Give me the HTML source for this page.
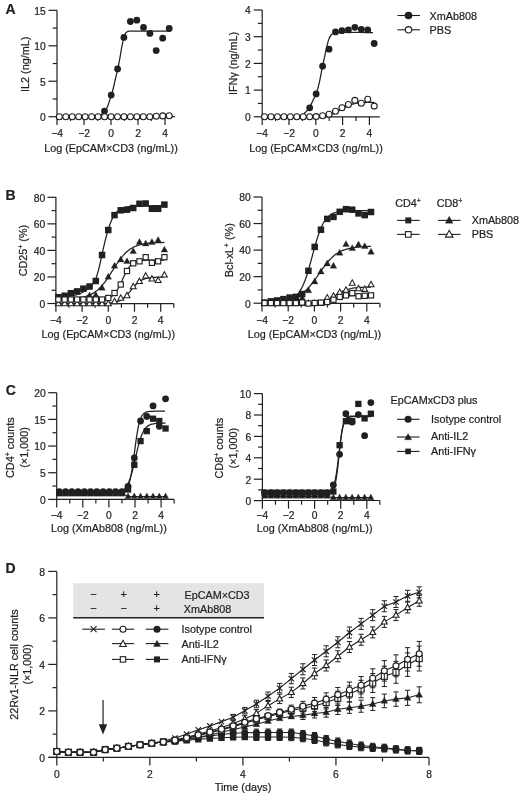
<!DOCTYPE html>
<html><head><meta charset="utf-8"><style>
html,body{margin:0;padding:0;background:#fff;}
svg{display:block;filter:grayscale(1);}
text{font-family:"Liberation Sans",sans-serif;fill:#231f20;stroke:#231f20;stroke-width:0.22px;}
</style></head><body>
<svg width="520" height="794" viewBox="0 0 520 794">
<rect width="520" height="794" fill="#fff"/>
<text x="5.5" y="13.8" text-anchor="start" font-size="14" font-weight="bold" >A</text>
<line x1="57" y1="10.3" x2="57" y2="116.7" stroke="#231f20" stroke-width="1.2"/>
<line x1="48.5" y1="116.7" x2="57" y2="116.7" stroke="#231f20" stroke-width="1.2"/>
<text x="45.8" y="121" text-anchor="end" font-size="10.3" font-weight="normal" >0</text>
<line x1="48.5" y1="81.25" x2="57" y2="81.25" stroke="#231f20" stroke-width="1.2"/>
<text x="45.8" y="85.55" text-anchor="end" font-size="10.3" font-weight="normal" >5</text>
<line x1="48.5" y1="45.8" x2="57" y2="45.8" stroke="#231f20" stroke-width="1.2"/>
<text x="45.8" y="50.1" text-anchor="end" font-size="10.3" font-weight="normal" >10</text>
<line x1="48.5" y1="10.35" x2="57" y2="10.35" stroke="#231f20" stroke-width="1.2"/>
<text x="45.8" y="14.65" text-anchor="end" font-size="10.3" font-weight="normal" >15</text>
<line x1="52.7" y1="98.97" x2="57" y2="98.97" stroke="#231f20" stroke-width="1.2"/>
<line x1="52.7" y1="63.53" x2="57" y2="63.53" stroke="#231f20" stroke-width="1.2"/>
<line x1="52.7" y1="28.08" x2="57" y2="28.08" stroke="#231f20" stroke-width="1.2"/>
<line x1="57" y1="116.7" x2="175" y2="116.7" stroke="#231f20" stroke-width="1.2"/>
<line x1="57" y1="116.7" x2="57" y2="124.9" stroke="#231f20" stroke-width="1.2"/>
<text x="57" y="136.6" text-anchor="middle" font-size="10.3" font-weight="normal" >−4</text>
<line x1="84" y1="116.7" x2="84" y2="124.9" stroke="#231f20" stroke-width="1.2"/>
<text x="84" y="136.6" text-anchor="middle" font-size="10.3" font-weight="normal" >−2</text>
<line x1="111" y1="116.7" x2="111" y2="124.9" stroke="#231f20" stroke-width="1.2"/>
<text x="111" y="136.6" text-anchor="middle" font-size="10.3" font-weight="normal" >0</text>
<line x1="138" y1="116.7" x2="138" y2="124.9" stroke="#231f20" stroke-width="1.2"/>
<text x="138" y="136.6" text-anchor="middle" font-size="10.3" font-weight="normal" >2</text>
<line x1="165" y1="116.7" x2="165" y2="124.9" stroke="#231f20" stroke-width="1.2"/>
<text x="165" y="136.6" text-anchor="middle" font-size="10.3" font-weight="normal" >4</text>
<line x1="70.5" y1="116.7" x2="70.5" y2="120.9" stroke="#231f20" stroke-width="1.2"/>
<line x1="97.5" y1="116.7" x2="97.5" y2="120.9" stroke="#231f20" stroke-width="1.2"/>
<line x1="124.5" y1="116.7" x2="124.5" y2="120.9" stroke="#231f20" stroke-width="1.2"/>
<line x1="151.5" y1="116.7" x2="151.5" y2="120.9" stroke="#231f20" stroke-width="1.2"/>
<text x="111" y="151.9" text-anchor="middle" font-size="10.8" font-weight="normal" >Log (EpCAM×CD3 (ng/mL))</text>
<text transform="translate(28.5,64.3) rotate(-90)" text-anchor="middle" font-size="10.8">IL2 (ng/mL)</text>
<path d="M59.5,116.7C64.92,116.7 85.75,116.75 92,116.7C98.25,116.65 95.67,116.62 97,116.4C98.33,116.18 99.03,115.92 100,115.4C100.97,114.88 102.03,114 102.8,113.3C103.57,112.6 103.8,112.35 104.6,111.2C105.4,110.05 106.5,109 107.6,106.4C108.7,103.8 110.3,98.42 111.2,95.6C112.1,92.78 112.3,92.27 113,89.5C113.7,86.73 114.6,82.45 115.4,79C116.2,75.55 117.1,72.02 117.8,68.8C118.5,65.58 119,62.97 119.6,59.7C120.2,56.43 120.82,52.38 121.4,49.2C121.98,46.02 122.62,42.73 123.1,40.6C123.58,38.47 123.88,37.63 124.3,36.4C124.72,35.17 125.12,33.98 125.6,33.2C126.08,32.42 126.63,32.03 127.2,31.7C127.77,31.37 127.87,31.3 129,31.2C130.13,31.1 127.1,31.12 134,31.1C140.9,31.08 164.33,31.1 170.4,31.1" fill="none" stroke="#231f20" stroke-width="1.25"/>
<circle cx="104.5" cy="111.1" r="3.4" fill="#231f20"/>
<circle cx="111.2" cy="95.1" r="3.4" fill="#231f20"/>
<circle cx="117.6" cy="68.9" r="3.4" fill="#231f20"/>
<circle cx="123.9" cy="37.4" r="3.4" fill="#231f20"/>
<circle cx="130.4" cy="21.5" r="3.4" fill="#231f20"/>
<circle cx="136.8" cy="20.2" r="3.4" fill="#231f20"/>
<circle cx="143.5" cy="27.4" r="3.4" fill="#231f20"/>
<circle cx="149.9" cy="33.4" r="3.4" fill="#231f20"/>
<circle cx="156.2" cy="50.6" r="3.4" fill="#231f20"/>
<circle cx="162.7" cy="38.2" r="3.4" fill="#231f20"/>
<circle cx="169.2" cy="28.5" r="3.4" fill="#231f20"/>
<circle cx="59.3" cy="116.8" r="3.0" fill="#fff" stroke="#231f20" stroke-width="1.1"/>
<circle cx="65.77" cy="116.8" r="3.0" fill="#fff" stroke="#231f20" stroke-width="1.1"/>
<circle cx="72.23" cy="116.8" r="3.0" fill="#fff" stroke="#231f20" stroke-width="1.1"/>
<circle cx="78.69" cy="116.8" r="3.0" fill="#fff" stroke="#231f20" stroke-width="1.1"/>
<circle cx="85.16" cy="116.8" r="3.0" fill="#fff" stroke="#231f20" stroke-width="1.1"/>
<circle cx="91.62" cy="116.8" r="3.0" fill="#fff" stroke="#231f20" stroke-width="1.1"/>
<circle cx="98.09" cy="116.8" r="3.0" fill="#fff" stroke="#231f20" stroke-width="1.1"/>
<circle cx="104.55" cy="116.8" r="3.0" fill="#fff" stroke="#231f20" stroke-width="1.1"/>
<circle cx="111.02" cy="116.8" r="3.0" fill="#fff" stroke="#231f20" stroke-width="1.1"/>
<circle cx="117.48" cy="116.8" r="3.0" fill="#fff" stroke="#231f20" stroke-width="1.1"/>
<circle cx="123.95" cy="116.8" r="3.0" fill="#fff" stroke="#231f20" stroke-width="1.1"/>
<circle cx="130.41" cy="116.8" r="3.0" fill="#fff" stroke="#231f20" stroke-width="1.1"/>
<circle cx="136.88" cy="116.8" r="3.0" fill="#fff" stroke="#231f20" stroke-width="1.1"/>
<circle cx="143.34" cy="116.8" r="3.0" fill="#fff" stroke="#231f20" stroke-width="1.1"/>
<circle cx="149.81" cy="116.8" r="3.0" fill="#fff" stroke="#231f20" stroke-width="1.1"/>
<circle cx="156.27" cy="116.3" r="3.0" fill="#fff" stroke="#231f20" stroke-width="1.1"/>
<circle cx="162.74" cy="115.9" r="3.0" fill="#fff" stroke="#231f20" stroke-width="1.1"/>
<circle cx="169.2" cy="115.7" r="3.0" fill="#fff" stroke="#231f20" stroke-width="1.1"/>
<line x1="262.2" y1="10" x2="262.2" y2="116.8" stroke="#231f20" stroke-width="1.2"/>
<line x1="253.7" y1="116.8" x2="262.2" y2="116.8" stroke="#231f20" stroke-width="1.2"/>
<text x="250.7" y="121.1" text-anchor="end" font-size="10.3" font-weight="normal" >0</text>
<line x1="253.7" y1="90.1" x2="262.2" y2="90.1" stroke="#231f20" stroke-width="1.2"/>
<text x="250.7" y="94.4" text-anchor="end" font-size="10.3" font-weight="normal" >1</text>
<line x1="253.7" y1="63.4" x2="262.2" y2="63.4" stroke="#231f20" stroke-width="1.2"/>
<text x="250.7" y="67.7" text-anchor="end" font-size="10.3" font-weight="normal" >2</text>
<line x1="253.7" y1="36.7" x2="262.2" y2="36.7" stroke="#231f20" stroke-width="1.2"/>
<text x="250.7" y="41" text-anchor="end" font-size="10.3" font-weight="normal" >3</text>
<line x1="253.7" y1="10" x2="262.2" y2="10" stroke="#231f20" stroke-width="1.2"/>
<text x="250.7" y="14.3" text-anchor="end" font-size="10.3" font-weight="normal" >4</text>
<line x1="257.9" y1="103.45" x2="262.2" y2="103.45" stroke="#231f20" stroke-width="1.2"/>
<line x1="257.9" y1="76.75" x2="262.2" y2="76.75" stroke="#231f20" stroke-width="1.2"/>
<line x1="257.9" y1="50.05" x2="262.2" y2="50.05" stroke="#231f20" stroke-width="1.2"/>
<line x1="257.9" y1="23.35" x2="262.2" y2="23.35" stroke="#231f20" stroke-width="1.2"/>
<line x1="262.2" y1="116.8" x2="379.8" y2="116.8" stroke="#231f20" stroke-width="1.2"/>
<line x1="262.2" y1="116.8" x2="262.2" y2="125" stroke="#231f20" stroke-width="1.2"/>
<text x="262.2" y="136.6" text-anchor="middle" font-size="10.3" font-weight="normal" >−4</text>
<line x1="289" y1="116.8" x2="289" y2="125" stroke="#231f20" stroke-width="1.2"/>
<text x="289" y="136.6" text-anchor="middle" font-size="10.3" font-weight="normal" >−2</text>
<line x1="315.8" y1="116.8" x2="315.8" y2="125" stroke="#231f20" stroke-width="1.2"/>
<text x="315.8" y="136.6" text-anchor="middle" font-size="10.3" font-weight="normal" >0</text>
<line x1="342.6" y1="116.8" x2="342.6" y2="125" stroke="#231f20" stroke-width="1.2"/>
<text x="342.6" y="136.6" text-anchor="middle" font-size="10.3" font-weight="normal" >2</text>
<line x1="369.4" y1="116.8" x2="369.4" y2="125" stroke="#231f20" stroke-width="1.2"/>
<text x="369.4" y="136.6" text-anchor="middle" font-size="10.3" font-weight="normal" >4</text>
<line x1="275.6" y1="116.8" x2="275.6" y2="121" stroke="#231f20" stroke-width="1.2"/>
<line x1="302.4" y1="116.8" x2="302.4" y2="121" stroke="#231f20" stroke-width="1.2"/>
<line x1="329.2" y1="116.8" x2="329.2" y2="121" stroke="#231f20" stroke-width="1.2"/>
<line x1="356" y1="116.8" x2="356" y2="121" stroke="#231f20" stroke-width="1.2"/>
<text x="316" y="151.9" text-anchor="middle" font-size="10.8" font-weight="normal" >Log (EpCAM×CD3 (ng/mL))</text>
<text transform="translate(237.2,63.5) rotate(-90)" text-anchor="middle" font-size="10.8">IFNγ (ng/mL)</text>
<path d="M264.8,116.8C269.33,116.8 286.63,116.87 292,116.8C297.37,116.73 295.58,116.62 297,116.4C298.42,116.18 299.4,115.9 300.5,115.5C301.6,115.1 302.58,114.72 303.6,114C304.62,113.28 305.6,112.3 306.6,111.2C307.6,110.1 308.6,109.07 309.6,107.4C310.6,105.73 311.5,103.5 312.6,101.2C313.7,98.9 315.12,96.53 316.2,93.6C317.28,90.67 318.05,88.15 319.1,83.6C320.15,79.05 321.58,70.77 322.5,66.3C323.42,61.83 323.87,60.15 324.6,56.8C325.33,53.45 326.2,49.1 326.9,46.2C327.6,43.3 328.1,41.27 328.8,39.4C329.5,37.53 330.32,36.03 331.1,35C331.88,33.97 332.6,33.6 333.5,33.2C334.4,32.8 335.08,32.72 336.5,32.6C337.92,32.48 335.92,32.52 342,32.5C348.08,32.48 367.83,32.5 373,32.5" fill="none" stroke="#231f20" stroke-width="1.25"/>
<path d="M264.55,116.8C264.81,116.8 265.59,116.8 266.12,116.8C266.64,116.8 267.16,116.8 267.68,116.8C268.2,116.8 268.73,116.8 269.25,116.8C269.77,116.8 270.29,116.8 270.82,116.8C271.34,116.8 271.86,116.8 272.38,116.8C272.9,116.8 273.43,116.8 273.95,116.8C274.47,116.8 274.99,116.8 275.51,116.8C276.04,116.8 276.56,116.8 277.08,116.8C277.6,116.8 278.13,116.8 278.65,116.8C279.17,116.8 279.69,116.8 280.21,116.8C280.74,116.8 281.26,116.8 281.78,116.8C282.3,116.8 282.82,116.8 283.35,116.8C283.87,116.8 284.39,116.8 284.91,116.8C285.44,116.8 285.96,116.8 286.48,116.8C287,116.8 287.52,116.8 288.05,116.8C288.57,116.8 289.09,116.8 289.61,116.8C290.13,116.8 290.66,116.8 291.18,116.8C291.7,116.8 292.22,116.8 292.75,116.8C293.27,116.8 293.79,116.8 294.31,116.79C294.83,116.79 295.36,116.79 295.88,116.79C296.4,116.79 296.92,116.79 297.44,116.79C297.97,116.79 298.49,116.79 299.01,116.79C299.53,116.79 300.06,116.79 300.58,116.78C301.1,116.78 301.62,116.78 302.14,116.78C302.67,116.78 303.19,116.78 303.71,116.77C304.23,116.77 304.75,116.77 305.28,116.77C305.8,116.76 306.32,116.76 306.84,116.76C307.37,116.75 307.89,116.75 308.41,116.74C308.93,116.74 309.45,116.73 309.98,116.73C310.5,116.72 311.02,116.71 311.54,116.7C312.06,116.7 312.59,116.69 313.11,116.67C313.63,116.66 314.15,116.65 314.68,116.64C315.2,116.62 315.72,116.61 316.24,116.59C316.76,116.57 317.29,116.55 317.81,116.52C318.33,116.5 318.85,116.47 319.38,116.44C319.9,116.41 320.42,116.38 320.94,116.34C321.46,116.3 321.99,116.25 322.51,116.2C323.03,116.15 323.55,116.09 324.07,116.03C324.6,115.96 325.12,115.89 325.64,115.81C326.16,115.73 326.69,115.63 327.21,115.53C327.73,115.43 328.25,115.32 328.77,115.19C329.3,115.06 329.82,114.92 330.34,114.76C330.86,114.61 331.38,114.44 331.91,114.25C332.43,114.07 332.95,113.86 333.47,113.64C333.99,113.43 334.52,113.19 335.04,112.94C335.56,112.69 336.08,112.42 336.61,112.14C337.13,111.86 337.65,111.56 338.17,111.26C338.69,110.96 339.22,110.64 339.74,110.32C340.26,110.01 340.78,109.68 341.3,109.36C341.83,109.04 342.35,108.72 342.87,108.41C343.39,108.09 343.92,107.78 344.44,107.49C344.96,107.2 345.48,106.91 346,106.64C346.53,106.37 347.05,106.11 347.57,105.88C348.09,105.64 348.62,105.41 349.14,105.21C349.66,105 350.18,104.81 350.7,104.64C351.23,104.46 351.75,104.31 352.27,104.16C352.79,104.02 353.31,103.89 353.84,103.77C354.36,103.65 354.88,103.55 355.4,103.45C355.92,103.36 356.45,103.28 356.97,103.2C357.49,103.13 358.01,103.06 358.54,103C359.06,102.94 359.58,102.89 360.1,102.84C360.62,102.8 361.15,102.76 361.67,102.72C362.19,102.68 362.71,102.65 363.24,102.62C363.76,102.6 364.28,102.57 364.8,102.55C365.32,102.53 365.85,102.51 366.37,102.49C366.89,102.47 367.41,102.46 367.93,102.45C368.46,102.43 368.98,102.42 369.5,102.41C370.02,102.4 370.55,102.39 371.07,102.39C371.59,102.38 372.11,102.37 372.63,102.37C373.16,102.36 373.94,102.35 374.2,102.35" fill="none" stroke="#231f20" stroke-width="1.25"/>
<circle cx="264.55" cy="116.8" r="3.0" fill="#fff" stroke="#231f20" stroke-width="1.1"/>
<circle cx="271" cy="116.8" r="3.0" fill="#fff" stroke="#231f20" stroke-width="1.1"/>
<circle cx="277.45" cy="116.8" r="3.0" fill="#fff" stroke="#231f20" stroke-width="1.1"/>
<circle cx="283.9" cy="116.8" r="3.0" fill="#fff" stroke="#231f20" stroke-width="1.1"/>
<circle cx="290.35" cy="116.8" r="3.0" fill="#fff" stroke="#231f20" stroke-width="1.1"/>
<circle cx="296.8" cy="116.8" r="3.0" fill="#fff" stroke="#231f20" stroke-width="1.1"/>
<circle cx="303.25" cy="116.8" r="3.0" fill="#fff" stroke="#231f20" stroke-width="1.1"/>
<circle cx="309.7" cy="116.7" r="3.0" fill="#fff" stroke="#231f20" stroke-width="1.1"/>
<circle cx="316.15" cy="116.6" r="3.0" fill="#fff" stroke="#231f20" stroke-width="1.1"/>
<circle cx="322.6" cy="115.8" r="3.0" fill="#fff" stroke="#231f20" stroke-width="1.1"/>
<circle cx="329.05" cy="114.2" r="3.0" fill="#fff" stroke="#231f20" stroke-width="1.1"/>
<circle cx="335.5" cy="111.2" r="3.0" fill="#fff" stroke="#231f20" stroke-width="1.1"/>
<circle cx="341.95" cy="107.8" r="3.0" fill="#fff" stroke="#231f20" stroke-width="1.1"/>
<circle cx="348.4" cy="104.5" r="3.0" fill="#fff" stroke="#231f20" stroke-width="1.1"/>
<circle cx="354.85" cy="100.4" r="3.0" fill="#fff" stroke="#231f20" stroke-width="1.1"/>
<circle cx="361.3" cy="103.2" r="3.0" fill="#fff" stroke="#231f20" stroke-width="1.1"/>
<circle cx="367.75" cy="99.3" r="3.0" fill="#fff" stroke="#231f20" stroke-width="1.1"/>
<circle cx="374.2" cy="106.1" r="3.0" fill="#fff" stroke="#231f20" stroke-width="1.1"/>
<circle cx="309.7" cy="107.8" r="3.4" fill="#231f20"/>
<circle cx="316.15" cy="93.9" r="3.4" fill="#231f20"/>
<circle cx="322.6" cy="66.2" r="3.4" fill="#231f20"/>
<circle cx="329.05" cy="49.2" r="3.4" fill="#231f20"/>
<circle cx="335.5" cy="31.9" r="3.4" fill="#231f20"/>
<circle cx="341.95" cy="30.7" r="3.4" fill="#231f20"/>
<circle cx="348.4" cy="29.9" r="3.4" fill="#231f20"/>
<circle cx="354.85" cy="27.3" r="3.4" fill="#231f20"/>
<circle cx="361.3" cy="29.3" r="3.4" fill="#231f20"/>
<circle cx="367.75" cy="29.9" r="3.4" fill="#231f20"/>
<circle cx="374.2" cy="43.5" r="3.4" fill="#231f20"/>
<line x1="397.5" y1="15.5" x2="420" y2="15.5" stroke="#231f20" stroke-width="1.1"/>
<circle cx="408.5" cy="15.5" r="3.75" fill="#231f20"/>
<line x1="397.5" y1="29.8" x2="420" y2="29.8" stroke="#231f20" stroke-width="1.1"/>
<circle cx="408.5" cy="29.8" r="3.2" fill="#fff" stroke="#231f20" stroke-width="1.1"/>
<text x="429.5" y="19.6" text-anchor="start" font-size="10.8" font-weight="normal" >XmAb808</text>
<text x="429.5" y="34.1" text-anchor="start" font-size="10.8" font-weight="normal" >PBS</text>
<text x="5.5" y="199.7" text-anchor="start" font-size="14" font-weight="bold" >B</text>
<line x1="55.9" y1="196.9" x2="55.9" y2="303.5" stroke="#231f20" stroke-width="1.2"/>
<line x1="47.4" y1="303.5" x2="55.9" y2="303.5" stroke="#231f20" stroke-width="1.2"/>
<text x="45.2" y="307.8" text-anchor="end" font-size="10.3" font-weight="normal" >0</text>
<line x1="47.4" y1="276.95" x2="55.9" y2="276.95" stroke="#231f20" stroke-width="1.2"/>
<text x="45.2" y="281.25" text-anchor="end" font-size="10.3" font-weight="normal" >20</text>
<line x1="47.4" y1="250.4" x2="55.9" y2="250.4" stroke="#231f20" stroke-width="1.2"/>
<text x="45.2" y="254.7" text-anchor="end" font-size="10.3" font-weight="normal" >40</text>
<line x1="47.4" y1="223.85" x2="55.9" y2="223.85" stroke="#231f20" stroke-width="1.2"/>
<text x="45.2" y="228.15" text-anchor="end" font-size="10.3" font-weight="normal" >60</text>
<line x1="47.4" y1="197.3" x2="55.9" y2="197.3" stroke="#231f20" stroke-width="1.2"/>
<text x="45.2" y="201.6" text-anchor="end" font-size="10.3" font-weight="normal" >80</text>
<line x1="51.6" y1="290.23" x2="55.9" y2="290.23" stroke="#231f20" stroke-width="1.2"/>
<line x1="51.6" y1="263.68" x2="55.9" y2="263.68" stroke="#231f20" stroke-width="1.2"/>
<line x1="51.6" y1="237.12" x2="55.9" y2="237.12" stroke="#231f20" stroke-width="1.2"/>
<line x1="51.6" y1="210.57" x2="55.9" y2="210.57" stroke="#231f20" stroke-width="1.2"/>
<line x1="55.9" y1="303.6" x2="173.8" y2="303.6" stroke="#231f20" stroke-width="1.2"/>
<line x1="55.9" y1="303.6" x2="55.9" y2="311.8" stroke="#231f20" stroke-width="1.2"/>
<text x="55.9" y="323.6" text-anchor="middle" font-size="10.3" font-weight="normal" >−4</text>
<line x1="82.1" y1="303.6" x2="82.1" y2="311.8" stroke="#231f20" stroke-width="1.2"/>
<text x="82.1" y="323.6" text-anchor="middle" font-size="10.3" font-weight="normal" >−2</text>
<line x1="108.3" y1="303.6" x2="108.3" y2="311.8" stroke="#231f20" stroke-width="1.2"/>
<text x="108.3" y="323.6" text-anchor="middle" font-size="10.3" font-weight="normal" >0</text>
<line x1="134.5" y1="303.6" x2="134.5" y2="311.8" stroke="#231f20" stroke-width="1.2"/>
<text x="134.5" y="323.6" text-anchor="middle" font-size="10.3" font-weight="normal" >2</text>
<line x1="160.7" y1="303.6" x2="160.7" y2="311.8" stroke="#231f20" stroke-width="1.2"/>
<text x="160.7" y="323.6" text-anchor="middle" font-size="10.3" font-weight="normal" >4</text>
<line x1="69" y1="303.6" x2="69" y2="307.8" stroke="#231f20" stroke-width="1.2"/>
<line x1="95.2" y1="303.6" x2="95.2" y2="307.8" stroke="#231f20" stroke-width="1.2"/>
<line x1="121.4" y1="303.6" x2="121.4" y2="307.8" stroke="#231f20" stroke-width="1.2"/>
<line x1="147.6" y1="303.6" x2="147.6" y2="307.8" stroke="#231f20" stroke-width="1.2"/>
<line x1="173.8" y1="303.6" x2="173.8" y2="307.8" stroke="#231f20" stroke-width="1.2"/>
<text x="108.3" y="338.3" text-anchor="middle" font-size="10.8" font-weight="normal" >Log (EpCAM×CD3 (ng/mL))</text>
<text transform="translate(26.8,250.6) rotate(-90)" text-anchor="middle" font-size="10.8">CD25<tspan dy='-4' font-size='7'>+</tspan><tspan dy='4'> (%)</tspan></text>
<path d="M58.4,296.9C60.33,296.78 67.07,296.52 70,296.2C72.93,295.88 74.33,295.4 76,295C77.67,294.6 78.67,294.37 80,293.8C81.33,293.23 82.57,292.57 84,291.6C85.43,290.63 87.27,289.17 88.6,288C89.93,286.83 90.85,286 92,284.6C93.15,283.2 94.33,282.33 95.5,279.6C96.67,276.87 97.93,272.3 99,268.2C100.07,264.1 100.85,259.67 101.9,255C102.95,250.33 104.28,244.33 105.3,240.2C106.32,236.07 107.05,233.32 108,230.2C108.95,227.08 109.95,224.03 111,221.5C112.05,218.97 113.22,216.7 114.3,215C115.38,213.3 116.42,212.25 117.5,211.3C118.58,210.35 119.38,209.97 120.8,209.3C122.22,208.63 123.63,207.85 126,207.3C128.37,206.75 128.6,206.3 135,206C141.4,205.7 159.5,205.58 164.4,205.5" fill="none" stroke="#231f20" stroke-width="1.25"/>
<path d="M58.4,298.87C58.65,298.86 59.41,298.85 59.91,298.84C60.42,298.83 60.92,298.83 61.43,298.81C61.93,298.8 62.44,298.79 62.94,298.78C63.45,298.77 63.95,298.75 64.46,298.74C64.96,298.73 65.47,298.71 65.97,298.69C66.48,298.68 66.98,298.66 67.49,298.64C67.99,298.62 68.49,298.59 69,298.57C69.5,298.54 70.01,298.52 70.51,298.49C71.02,298.46 71.52,298.43 72.03,298.4C72.53,298.36 73.04,298.33 73.54,298.29C74.05,298.25 74.55,298.2 75.06,298.16C75.56,298.11 76.07,298.06 76.57,298C77.08,297.95 77.58,297.89 78.08,297.82C78.59,297.76 79.09,297.69 79.6,297.61C80.1,297.53 80.61,297.45 81.11,297.36C81.62,297.27 82.12,297.18 82.63,297.07C83.13,296.96 83.64,296.85 84.14,296.73C84.65,296.6 85.15,296.47 85.66,296.33C86.16,296.18 86.67,296.03 87.17,295.86C87.67,295.69 88.18,295.51 88.68,295.32C89.19,295.12 89.69,294.92 90.2,294.69C90.7,294.46 91.21,294.22 91.71,293.96C92.22,293.7 92.72,293.43 93.23,293.13C93.73,292.83 94.24,292.52 94.74,292.18C95.25,291.84 95.75,291.48 96.26,291.09C96.76,290.7 97.26,290.3 97.77,289.86C98.27,289.43 98.78,288.97 99.28,288.49C99.79,288 100.29,287.49 100.8,286.96C101.3,286.42 101.81,285.86 102.31,285.27C102.82,284.68 103.32,284.07 103.83,283.43C104.33,282.79 104.84,282.13 105.34,281.44C105.85,280.76 106.35,280.05 106.85,279.33C107.36,278.6 107.86,277.85 108.37,277.09C108.87,276.34 109.38,275.56 109.88,274.77C110.39,273.99 110.89,273.19 111.4,272.4C111.9,271.6 112.41,270.8 112.91,270C113.42,269.2 113.92,268.39 114.43,267.6C114.93,266.81 115.44,266.03 115.94,265.26C116.44,264.48 116.95,263.72 117.45,262.98C117.96,262.24 118.46,261.51 118.97,260.81C119.47,260.1 119.98,259.42 120.48,258.76C120.99,258.1 121.49,257.46 122,256.85C122.5,256.24 123.01,255.65 123.51,255.09C124.02,254.53 124.52,254 125.03,253.49C125.53,252.98 126.03,252.5 126.54,252.04C127.04,251.59 127.55,251.16 128.05,250.75C128.56,250.34 129.06,249.96 129.57,249.6C130.07,249.24 130.58,248.91 131.08,248.59C131.59,248.27 132.09,247.98 132.6,247.7C133.1,247.43 133.61,247.17 134.11,246.93C134.62,246.69 135.12,246.47 135.62,246.26C136.13,246.05 136.63,245.86 137.14,245.68C137.64,245.5 138.15,245.33 138.65,245.18C139.16,245.02 139.66,244.88 140.17,244.75C140.67,244.61 141.18,244.49 141.68,244.38C142.19,244.27 142.69,244.16 143.2,244.07C143.7,243.97 144.21,243.88 144.71,243.8C145.21,243.71 145.72,243.64 146.22,243.57C146.73,243.5 147.23,243.43 147.74,243.37C148.24,243.31 148.75,243.26 149.25,243.21C149.76,243.16 150.26,243.11 150.77,243.07C151.27,243.03 151.78,242.99 152.28,242.95C152.79,242.91 153.29,242.88 153.8,242.85C154.3,242.82 154.8,242.79 155.31,242.77C155.81,242.74 156.32,242.72 156.82,242.69C157.33,242.67 157.83,242.65 158.34,242.63C158.84,242.61 159.35,242.6 159.85,242.58C160.36,242.56 160.86,242.55 161.37,242.54C161.87,242.52 162.38,242.51 162.88,242.5C163.39,242.49 164.14,242.47 164.4,242.47" fill="none" stroke="#231f20" stroke-width="1.25"/>
<path d="M58.4,300C58.65,300 59.41,300 59.91,300C60.42,300 60.92,300 61.43,300C61.93,300 62.44,300 62.94,300C63.45,300 63.95,300 64.46,300C64.96,300 65.47,300 65.97,300C66.48,300 66.98,300 67.49,300C67.99,300 68.49,300 69,300C69.5,300 70.01,300 70.51,300C71.02,300 71.52,300 72.03,300C72.53,300 73.04,300 73.54,300C74.05,300 74.55,300 75.06,300C75.56,300 76.07,300 76.57,300C77.08,300 77.58,300 78.08,300C78.59,300 79.09,300 79.6,300C80.1,300 80.61,300 81.11,300C81.62,299.99 82.12,299.99 82.63,299.99C83.13,299.99 83.64,299.99 84.14,299.99C84.65,299.99 85.15,299.99 85.66,299.99C86.16,299.99 86.67,299.98 87.17,299.98C87.67,299.98 88.18,299.98 88.68,299.98C89.19,299.97 89.69,299.97 90.2,299.97C90.7,299.96 91.21,299.96 91.71,299.95C92.22,299.95 92.72,299.94 93.23,299.93C93.73,299.93 94.24,299.92 94.74,299.91C95.25,299.9 95.75,299.89 96.26,299.87C96.76,299.86 97.26,299.84 97.77,299.82C98.27,299.8 98.78,299.78 99.28,299.75C99.79,299.72 100.29,299.69 100.8,299.65C101.3,299.61 101.81,299.57 102.31,299.51C102.82,299.46 103.32,299.4 103.83,299.32C104.33,299.25 104.84,299.17 105.34,299.06C105.85,298.96 106.35,298.85 106.85,298.71C107.36,298.56 107.86,298.41 108.37,298.22C108.87,298.02 109.38,297.81 109.88,297.55C110.39,297.3 110.89,297.01 111.4,296.67C111.9,296.33 112.41,295.95 112.91,295.5C113.42,295.05 113.92,294.56 114.43,293.99C114.93,293.42 115.44,292.79 115.94,292.08C116.44,291.38 116.95,290.6 117.45,289.75C117.96,288.91 118.46,287.99 118.97,287.02C119.47,286.05 119.98,285 120.48,283.95C120.99,282.89 121.49,281.77 122,280.67C122.5,279.57 123.01,278.43 123.51,277.35C124.02,276.27 124.52,275.19 125.03,274.18C125.53,273.17 126.03,272.19 126.54,271.29C127.04,270.4 127.55,269.56 128.05,268.8C128.56,268.04 129.06,267.35 129.57,266.72C130.07,266.1 130.58,265.55 131.08,265.06C131.59,264.57 132.09,264.14 132.6,263.76C133.1,263.38 133.61,263.06 134.11,262.77C134.62,262.48 135.12,262.24 135.62,262.02C136.13,261.81 136.63,261.63 137.14,261.47C137.64,261.31 138.15,261.18 138.65,261.07C139.16,260.95 139.66,260.86 140.17,260.77C140.67,260.68 141.18,260.62 141.68,260.55C142.19,260.49 142.69,260.44 143.2,260.4C143.7,260.35 144.21,260.32 144.71,260.29C145.21,260.25 145.72,260.23 146.22,260.21C146.73,260.18 147.23,260.16 147.74,260.15C148.24,260.13 148.75,260.12 149.25,260.11C149.76,260.09 150.26,260.08 150.77,260.08C151.27,260.07 151.78,260.06 152.28,260.05C152.79,260.05 153.29,260.04 153.8,260.04C154.3,260.03 154.8,260.03 155.31,260.03C155.81,260.02 156.32,260.02 156.82,260.02C157.33,260.02 157.83,260.02 158.34,260.01C158.84,260.01 159.35,260.01 159.85,260.01C160.36,260.01 160.86,260.01 161.37,260.01C161.87,260.01 162.38,260.01 162.88,260.01C163.39,260 164.14,260 164.4,260" fill="none" stroke="#231f20" stroke-width="1.25"/>
<path d="M58.4,303.5C58.65,303.5 59.41,303.5 59.91,303.5C60.42,303.5 60.92,303.5 61.43,303.5C61.93,303.5 62.44,303.5 62.94,303.5C63.45,303.5 63.95,303.5 64.46,303.5C64.96,303.5 65.47,303.5 65.97,303.5C66.48,303.5 66.98,303.5 67.49,303.5C67.99,303.5 68.49,303.5 69,303.5C69.5,303.5 70.01,303.5 70.51,303.5C71.02,303.5 71.52,303.5 72.03,303.5C72.53,303.5 73.04,303.5 73.54,303.5C74.05,303.5 74.55,303.5 75.06,303.5C75.56,303.5 76.07,303.5 76.57,303.5C77.08,303.5 77.58,303.5 78.08,303.5C78.59,303.5 79.09,303.5 79.6,303.5C80.1,303.5 80.61,303.5 81.11,303.5C81.62,303.5 82.12,303.5 82.63,303.5C83.13,303.5 83.64,303.5 84.14,303.5C84.65,303.5 85.15,303.5 85.66,303.5C86.16,303.49 86.67,303.49 87.17,303.49C87.67,303.49 88.18,303.49 88.68,303.49C89.19,303.49 89.69,303.49 90.2,303.49C90.7,303.49 91.21,303.49 91.71,303.48C92.22,303.48 92.72,303.48 93.23,303.48C93.73,303.48 94.24,303.48 94.74,303.47C95.25,303.47 95.75,303.47 96.26,303.46C96.76,303.46 97.26,303.46 97.77,303.45C98.27,303.45 98.78,303.44 99.28,303.44C99.79,303.43 100.29,303.42 100.8,303.41C101.3,303.41 101.81,303.4 102.31,303.39C102.82,303.38 103.32,303.36 103.83,303.35C104.33,303.33 104.84,303.32 105.34,303.3C105.85,303.28 106.35,303.26 106.85,303.23C107.36,303.21 107.86,303.18 108.37,303.15C108.87,303.11 109.38,303.07 109.88,303.03C110.39,302.98 110.89,302.93 111.4,302.88C111.9,302.82 112.41,302.75 112.91,302.67C113.42,302.6 113.92,302.51 114.43,302.41C114.93,302.31 115.44,302.2 115.94,302.07C116.44,301.94 116.95,301.79 117.45,301.62C117.96,301.45 118.46,301.27 118.97,301.05C119.47,300.84 119.98,300.6 120.48,300.34C120.99,300.07 121.49,299.77 122,299.44C122.5,299.11 123.01,298.75 123.51,298.35C124.02,297.96 124.52,297.52 125.03,297.05C125.53,296.59 126.03,296.08 126.54,295.55C127.04,295.02 127.55,294.45 128.05,293.86C128.56,293.28 129.06,292.66 129.57,292.04C130.07,291.42 130.58,290.78 131.08,290.15C131.59,289.52 132.09,288.87 132.6,288.26C133.1,287.64 133.61,287.02 134.11,286.44C134.62,285.86 135.12,285.3 135.62,284.78C136.13,284.25 136.63,283.75 137.14,283.29C137.64,282.83 138.15,282.41 138.65,282.02C139.16,281.63 139.66,281.27 140.17,280.95C140.67,280.63 141.18,280.34 141.68,280.08C142.19,279.82 142.69,279.59 143.2,279.38C143.7,279.17 144.21,278.99 144.71,278.82C145.21,278.66 145.72,278.52 146.22,278.39C146.73,278.26 147.23,278.16 147.74,278.06C148.24,277.96 148.75,277.88 149.25,277.8C149.76,277.73 150.26,277.66 150.77,277.61C151.27,277.55 151.78,277.5 152.28,277.46C152.79,277.41 153.29,277.38 153.8,277.34C154.3,277.31 154.8,277.28 155.31,277.26C155.81,277.23 156.32,277.21 156.82,277.19C157.33,277.18 157.83,277.16 158.34,277.15C158.84,277.13 159.35,277.12 159.85,277.11C160.36,277.1 160.86,277.09 161.37,277.08C161.87,277.07 162.38,277.07 162.88,277.06C163.39,277.06 164.14,277.05 164.4,277.05" fill="none" stroke="#231f20" stroke-width="1.25"/>
<rect x="55.15" y="293.95" width="6.5" height="6.5" fill="#231f20"/>
<rect x="61.39" y="292.55" width="6.5" height="6.5" fill="#231f20"/>
<rect x="67.62" y="289.95" width="6.5" height="6.5" fill="#231f20"/>
<rect x="73.86" y="288.15" width="6.5" height="6.5" fill="#231f20"/>
<rect x="80.09" y="285.45" width="6.5" height="6.5" fill="#231f20"/>
<rect x="86.33" y="283.25" width="6.5" height="6.5" fill="#231f20"/>
<rect x="92.56" y="277.75" width="6.5" height="6.5" fill="#231f20"/>
<rect x="98.8" y="251.75" width="6.5" height="6.5" fill="#231f20"/>
<rect x="105.03" y="226.75" width="6.5" height="6.5" fill="#231f20"/>
<rect x="111.27" y="211.85" width="6.5" height="6.5" fill="#231f20"/>
<rect x="117.5" y="207.05" width="6.5" height="6.5" fill="#231f20"/>
<rect x="123.74" y="206.45" width="6.5" height="6.5" fill="#231f20"/>
<rect x="129.97" y="204.75" width="6.5" height="6.5" fill="#231f20"/>
<rect x="136.21" y="200.55" width="6.5" height="6.5" fill="#231f20"/>
<rect x="142.44" y="200.25" width="6.5" height="6.5" fill="#231f20"/>
<rect x="148.68" y="205.55" width="6.5" height="6.5" fill="#231f20"/>
<rect x="154.91" y="205.55" width="6.5" height="6.5" fill="#231f20"/>
<rect x="161.15" y="201.35" width="6.5" height="6.5" fill="#231f20"/>
<polygon points="89.58,291.94 92.88,297.88 86.28,297.88" fill="#231f20" stroke="#231f20" stroke-width="0.3" stroke-linejoin="round"/>
<polygon points="95.81,291.44 99.11,297.38 92.51,297.38" fill="#231f20" stroke="#231f20" stroke-width="0.3" stroke-linejoin="round"/>
<polygon points="102.05,284.24 105.34,290.18 98.75,290.18" fill="#231f20" stroke="#231f20" stroke-width="0.3" stroke-linejoin="round"/>
<polygon points="108.28,273.24 111.58,279.18 104.98,279.18" fill="#231f20" stroke="#231f20" stroke-width="0.3" stroke-linejoin="round"/>
<polygon points="114.52,262.24 117.81,268.18 111.22,268.18" fill="#231f20" stroke="#231f20" stroke-width="0.3" stroke-linejoin="round"/>
<polygon points="120.75,255.94 124.05,261.88 117.45,261.88" fill="#231f20" stroke="#231f20" stroke-width="0.3" stroke-linejoin="round"/>
<polygon points="126.99,257.64 130.29,263.58 123.69,263.58" fill="#231f20" stroke="#231f20" stroke-width="0.3" stroke-linejoin="round"/>
<polygon points="133.22,247.64 136.52,253.58 129.92,253.58" fill="#231f20" stroke="#231f20" stroke-width="0.3" stroke-linejoin="round"/>
<polygon points="139.46,238.54 142.76,244.48 136.16,244.48" fill="#231f20" stroke="#231f20" stroke-width="0.3" stroke-linejoin="round"/>
<polygon points="145.69,240.04 148.99,245.98 142.39,245.98" fill="#231f20" stroke="#231f20" stroke-width="0.3" stroke-linejoin="round"/>
<polygon points="151.93,238.54 155.23,244.48 148.62,244.48" fill="#231f20" stroke="#231f20" stroke-width="0.3" stroke-linejoin="round"/>
<polygon points="158.16,236.54 161.46,242.48 154.86,242.48" fill="#231f20" stroke="#231f20" stroke-width="0.3" stroke-linejoin="round"/>
<polygon points="164.4,246.14 167.7,252.08 161.09,252.08" fill="#231f20" stroke="#231f20" stroke-width="0.3" stroke-linejoin="round"/>
<polygon points="58.4,300.36 61.4,305.76 55.4,305.76" fill="#fff" stroke="#231f20" stroke-width="1.05" stroke-linejoin="miter"/>
<polygon points="64.64,300.36 67.64,305.76 61.64,305.76" fill="#fff" stroke="#231f20" stroke-width="1.05" stroke-linejoin="miter"/>
<polygon points="70.87,300.36 73.87,305.76 67.87,305.76" fill="#fff" stroke="#231f20" stroke-width="1.05" stroke-linejoin="miter"/>
<polygon points="77.11,300.36 80.11,305.76 74.11,305.76" fill="#fff" stroke="#231f20" stroke-width="1.05" stroke-linejoin="miter"/>
<polygon points="83.34,300.36 86.34,305.76 80.34,305.76" fill="#fff" stroke="#231f20" stroke-width="1.05" stroke-linejoin="miter"/>
<polygon points="89.58,300.36 92.58,305.76 86.58,305.76" fill="#fff" stroke="#231f20" stroke-width="1.05" stroke-linejoin="miter"/>
<polygon points="95.81,300.36 98.81,305.76 92.81,305.76" fill="#fff" stroke="#231f20" stroke-width="1.05" stroke-linejoin="miter"/>
<polygon points="102.05,300.36 105.05,305.76 99.05,305.76" fill="#fff" stroke="#231f20" stroke-width="1.05" stroke-linejoin="miter"/>
<polygon points="108.28,300.36 111.28,305.76 105.28,305.76" fill="#fff" stroke="#231f20" stroke-width="1.05" stroke-linejoin="miter"/>
<polygon points="114.52,298.26 117.52,303.66 111.52,303.66" fill="#fff" stroke="#231f20" stroke-width="1.05" stroke-linejoin="miter"/>
<polygon points="120.75,294.76 123.75,300.16 117.75,300.16" fill="#fff" stroke="#231f20" stroke-width="1.05" stroke-linejoin="miter"/>
<polygon points="126.99,292.26 129.99,297.66 123.99,297.66" fill="#fff" stroke="#231f20" stroke-width="1.05" stroke-linejoin="miter"/>
<polygon points="133.22,283.26 136.22,288.66 130.22,288.66" fill="#fff" stroke="#231f20" stroke-width="1.05" stroke-linejoin="miter"/>
<polygon points="139.46,278.16 142.46,283.56 136.46,283.56" fill="#fff" stroke="#231f20" stroke-width="1.05" stroke-linejoin="miter"/>
<polygon points="145.69,272.66 148.69,278.06 142.69,278.06" fill="#fff" stroke="#231f20" stroke-width="1.05" stroke-linejoin="miter"/>
<polygon points="151.93,275.66 154.93,281.06 148.93,281.06" fill="#fff" stroke="#231f20" stroke-width="1.05" stroke-linejoin="miter"/>
<polygon points="158.16,277.16 161.16,282.56 155.16,282.56" fill="#fff" stroke="#231f20" stroke-width="1.05" stroke-linejoin="miter"/>
<polygon points="164.4,271.66 167.4,277.06 161.4,277.06" fill="#fff" stroke="#231f20" stroke-width="1.05" stroke-linejoin="miter"/>
<rect x="55.8" y="296.9" width="5.2" height="5.2" fill="#fff" stroke="#231f20" stroke-width="1.15"/>
<rect x="62.04" y="296.9" width="5.2" height="5.2" fill="#fff" stroke="#231f20" stroke-width="1.15"/>
<rect x="68.27" y="296.9" width="5.2" height="5.2" fill="#fff" stroke="#231f20" stroke-width="1.15"/>
<rect x="74.51" y="296.9" width="5.2" height="5.2" fill="#fff" stroke="#231f20" stroke-width="1.15"/>
<rect x="80.74" y="296.9" width="5.2" height="5.2" fill="#fff" stroke="#231f20" stroke-width="1.15"/>
<rect x="86.98" y="296.9" width="5.2" height="5.2" fill="#fff" stroke="#231f20" stroke-width="1.15"/>
<rect x="93.21" y="296.9" width="5.2" height="5.2" fill="#fff" stroke="#231f20" stroke-width="1.15"/>
<rect x="99.45" y="296.9" width="5.2" height="5.2" fill="#fff" stroke="#231f20" stroke-width="1.15"/>
<rect x="105.68" y="295.4" width="5.2" height="5.2" fill="#fff" stroke="#231f20" stroke-width="1.15"/>
<rect x="111.92" y="290.4" width="5.2" height="5.2" fill="#fff" stroke="#231f20" stroke-width="1.15"/>
<rect x="118.15" y="281.9" width="5.2" height="5.2" fill="#fff" stroke="#231f20" stroke-width="1.15"/>
<rect x="124.39" y="268.4" width="5.2" height="5.2" fill="#fff" stroke="#231f20" stroke-width="1.15"/>
<rect x="130.62" y="260.7" width="5.2" height="5.2" fill="#fff" stroke="#231f20" stroke-width="1.15"/>
<rect x="136.86" y="258.7" width="5.2" height="5.2" fill="#fff" stroke="#231f20" stroke-width="1.15"/>
<rect x="143.09" y="254.6" width="5.2" height="5.2" fill="#fff" stroke="#231f20" stroke-width="1.15"/>
<rect x="149.33" y="260.2" width="5.2" height="5.2" fill="#fff" stroke="#231f20" stroke-width="1.15"/>
<rect x="155.56" y="258.7" width="5.2" height="5.2" fill="#fff" stroke="#231f20" stroke-width="1.15"/>
<rect x="161.8" y="254.6" width="5.2" height="5.2" fill="#fff" stroke="#231f20" stroke-width="1.15"/>
<line x1="262" y1="197" x2="262" y2="303.2" stroke="#231f20" stroke-width="1.2"/>
<line x1="253.5" y1="303.2" x2="262" y2="303.2" stroke="#231f20" stroke-width="1.2"/>
<text x="250.7" y="307.5" text-anchor="end" font-size="10.3" font-weight="normal" >0</text>
<line x1="253.5" y1="276.65" x2="262" y2="276.65" stroke="#231f20" stroke-width="1.2"/>
<text x="250.7" y="280.95" text-anchor="end" font-size="10.3" font-weight="normal" >20</text>
<line x1="253.5" y1="250.1" x2="262" y2="250.1" stroke="#231f20" stroke-width="1.2"/>
<text x="250.7" y="254.4" text-anchor="end" font-size="10.3" font-weight="normal" >40</text>
<line x1="253.5" y1="223.55" x2="262" y2="223.55" stroke="#231f20" stroke-width="1.2"/>
<text x="250.7" y="227.85" text-anchor="end" font-size="10.3" font-weight="normal" >60</text>
<line x1="253.5" y1="197" x2="262" y2="197" stroke="#231f20" stroke-width="1.2"/>
<text x="250.7" y="201.3" text-anchor="end" font-size="10.3" font-weight="normal" >80</text>
<line x1="257.7" y1="289.93" x2="262" y2="289.93" stroke="#231f20" stroke-width="1.2"/>
<line x1="257.7" y1="263.38" x2="262" y2="263.38" stroke="#231f20" stroke-width="1.2"/>
<line x1="257.7" y1="236.82" x2="262" y2="236.82" stroke="#231f20" stroke-width="1.2"/>
<line x1="257.7" y1="210.27" x2="262" y2="210.27" stroke="#231f20" stroke-width="1.2"/>
<line x1="262" y1="303.3" x2="379.7" y2="303.3" stroke="#231f20" stroke-width="1.2"/>
<line x1="262" y1="303.3" x2="262" y2="311.5" stroke="#231f20" stroke-width="1.2"/>
<text x="262" y="323.6" text-anchor="middle" font-size="10.3" font-weight="normal" >−4</text>
<line x1="288.2" y1="303.3" x2="288.2" y2="311.5" stroke="#231f20" stroke-width="1.2"/>
<text x="288.2" y="323.6" text-anchor="middle" font-size="10.3" font-weight="normal" >−2</text>
<line x1="314.4" y1="303.3" x2="314.4" y2="311.5" stroke="#231f20" stroke-width="1.2"/>
<text x="314.4" y="323.6" text-anchor="middle" font-size="10.3" font-weight="normal" >0</text>
<line x1="340.6" y1="303.3" x2="340.6" y2="311.5" stroke="#231f20" stroke-width="1.2"/>
<text x="340.6" y="323.6" text-anchor="middle" font-size="10.3" font-weight="normal" >2</text>
<line x1="366.8" y1="303.3" x2="366.8" y2="311.5" stroke="#231f20" stroke-width="1.2"/>
<text x="366.8" y="323.6" text-anchor="middle" font-size="10.3" font-weight="normal" >4</text>
<line x1="275.1" y1="303.3" x2="275.1" y2="307.5" stroke="#231f20" stroke-width="1.2"/>
<line x1="301.3" y1="303.3" x2="301.3" y2="307.5" stroke="#231f20" stroke-width="1.2"/>
<line x1="327.5" y1="303.3" x2="327.5" y2="307.5" stroke="#231f20" stroke-width="1.2"/>
<line x1="353.7" y1="303.3" x2="353.7" y2="307.5" stroke="#231f20" stroke-width="1.2"/>
<line x1="379.9" y1="303.3" x2="379.9" y2="307.5" stroke="#231f20" stroke-width="1.2"/>
<text x="314.4" y="338.3" text-anchor="middle" font-size="10.8" font-weight="normal" >Log (EpCAM×CD3 (ng/mL))</text>
<text transform="translate(232.6,250.2) rotate(-90)" text-anchor="middle" font-size="10.8">Bcl-xL<tspan dy='-4' font-size='7'>+</tspan><tspan dy='4'> (%)</tspan></text>
<path d="M264.6,301.47C264.85,301.46 265.61,301.46 266.12,301.46C266.63,301.45 267.13,301.45 267.64,301.44C268.15,301.44 268.65,301.43 269.16,301.43C269.67,301.42 270.17,301.41 270.68,301.41C271.19,301.4 271.69,301.39 272.2,301.38C272.71,301.37 273.21,301.36 273.72,301.34C274.23,301.33 274.74,301.32 275.24,301.3C275.75,301.28 276.26,301.26 276.76,301.24C277.27,301.22 277.78,301.2 278.28,301.17C278.79,301.14 279.3,301.11 279.8,301.08C280.31,301.04 280.82,301 281.32,300.95C281.83,300.91 282.34,300.86 282.84,300.8C283.35,300.74 283.86,300.68 284.36,300.6C284.87,300.53 285.38,300.45 285.88,300.35C286.39,300.25 286.9,300.15 287.4,300.03C287.91,299.91 288.42,299.77 288.92,299.62C289.43,299.46 289.94,299.29 290.44,299.09C290.95,298.9 291.46,298.68 291.97,298.43C292.47,298.18 292.98,297.91 293.49,297.59C293.99,297.28 294.5,296.94 295.01,296.54C295.51,296.15 296.02,295.72 296.53,295.22C297.03,294.73 297.54,294.2 298.05,293.59C298.55,292.98 299.06,292.32 299.57,291.58C300.07,290.84 300.58,290.03 301.09,289.14C301.59,288.24 302.1,287.27 302.61,286.21C303.11,285.14 303.62,283.99 304.13,282.74C304.63,281.5 305.14,280.16 305.65,278.73C306.15,277.31 306.66,275.78 307.17,274.19C307.67,272.6 308.18,270.91 308.69,269.17C309.2,267.43 309.7,265.61 310.21,263.77C310.72,261.94 311.22,260.03 311.73,258.14C312.24,256.25 312.74,254.33 313.25,252.44C313.76,250.56 314.26,248.67 314.77,246.86C315.28,245.04 315.78,243.25 316.29,241.54C316.8,239.84 317.3,238.19 317.81,236.63C318.32,235.08 318.82,233.6 319.33,232.22C319.84,230.84 320.34,229.55 320.85,228.35C321.36,227.15 321.86,226.04 322.37,225.02C322.88,224 323.38,223.07 323.89,222.21C324.4,221.36 324.9,220.59 325.41,219.88C325.92,219.17 326.42,218.55 326.93,217.97C327.44,217.39 327.95,216.89 328.45,216.42C328.96,215.96 329.47,215.55 329.97,215.17C330.48,214.8 330.99,214.48 331.49,214.18C332,213.88 332.51,213.63 333.01,213.39C333.52,213.15 334.03,212.95 334.53,212.76C335.04,212.58 335.55,212.42 336.05,212.27C336.56,212.13 337.07,212 337.57,211.88C338.08,211.77 338.59,211.67 339.09,211.58C339.6,211.49 340.11,211.41 340.61,211.34C341.12,211.27 341.63,211.21 342.13,211.16C342.64,211.1 343.15,211.06 343.65,211.01C344.16,210.97 344.67,210.93 345.18,210.9C345.68,210.87 346.19,210.84 346.7,210.81C347.2,210.78 347.71,210.76 348.22,210.74C348.72,210.72 349.23,210.7 349.74,210.69C350.24,210.67 350.75,210.66 351.26,210.65C351.76,210.63 352.27,210.62 352.78,210.61C353.28,210.6 353.79,210.6 354.3,210.59C354.8,210.58 355.31,210.58 355.82,210.57C356.32,210.56 356.83,210.56 357.34,210.55C357.84,210.55 358.35,210.55 358.86,210.54C359.36,210.54 359.87,210.54 360.38,210.53C360.88,210.53 361.39,210.53 361.9,210.53C362.41,210.52 362.91,210.52 363.42,210.52C363.93,210.52 364.43,210.52 364.94,210.52C365.45,210.51 365.95,210.51 366.46,210.51C366.97,210.51 367.47,210.51 367.98,210.51C368.49,210.51 368.99,210.51 369.5,210.51C370.01,210.51 370.77,210.51 371.02,210.51" fill="none" stroke="#231f20" stroke-width="1.25"/>
<path d="M264.6,301.32C264.85,301.31 265.61,301.3 266.12,301.29C266.63,301.27 267.13,301.26 267.64,301.25C268.15,301.24 268.65,301.22 269.16,301.21C269.67,301.19 270.17,301.17 270.68,301.16C271.19,301.14 271.69,301.12 272.2,301.1C272.71,301.08 273.21,301.05 273.72,301.03C274.23,301 274.74,300.98 275.24,300.95C275.75,300.92 276.26,300.89 276.76,300.85C277.27,300.82 277.78,300.78 278.28,300.74C278.79,300.7 279.3,300.66 279.8,300.61C280.31,300.57 280.82,300.52 281.32,300.46C281.83,300.41 282.34,300.35 282.84,300.29C283.35,300.22 283.86,300.15 284.36,300.08C284.87,300.01 285.38,299.93 285.88,299.84C286.39,299.76 286.9,299.67 287.4,299.57C287.91,299.47 288.42,299.36 288.92,299.24C289.43,299.13 289.94,299.01 290.44,298.87C290.95,298.74 291.46,298.6 291.97,298.44C292.47,298.29 292.98,298.13 293.49,297.95C293.99,297.77 294.5,297.58 295.01,297.38C295.51,297.18 296.02,296.96 296.53,296.73C297.03,296.5 297.54,296.25 298.05,295.98C298.55,295.72 299.06,295.44 299.57,295.14C300.07,294.84 300.58,294.52 301.09,294.18C301.59,293.85 302.1,293.49 302.61,293.11C303.11,292.73 303.62,292.33 304.13,291.91C304.63,291.49 305.14,291.04 305.65,290.58C306.15,290.11 306.66,289.62 307.17,289.11C307.67,288.6 308.18,288.07 308.69,287.51C309.2,286.95 309.7,286.37 310.21,285.78C310.72,285.18 311.22,284.56 311.73,283.92C312.24,283.28 312.74,282.62 313.25,281.95C313.76,281.28 314.26,280.59 314.77,279.89C315.28,279.19 315.78,278.48 316.29,277.76C316.8,277.04 317.3,276.31 317.81,275.58C318.32,274.84 318.82,274.1 319.33,273.37C319.84,272.64 320.34,271.9 320.85,271.17C321.36,270.44 321.86,269.72 322.37,269.01C322.88,268.3 323.38,267.59 323.89,266.9C324.4,266.21 324.9,265.54 325.41,264.88C325.92,264.22 326.42,263.58 326.93,262.96C327.44,262.34 327.95,261.73 328.45,261.15C328.96,260.57 329.47,260.01 329.97,259.48C330.48,258.94 330.99,258.43 331.49,257.93C332,257.44 332.51,256.97 333.01,256.53C333.52,256.08 334.03,255.66 334.53,255.25C335.04,254.85 335.55,254.47 336.05,254.11C336.56,253.75 337.07,253.41 337.57,253.09C338.08,252.77 338.59,252.46 339.09,252.18C339.6,251.9 340.11,251.63 340.61,251.38C341.12,251.13 341.63,250.9 342.13,250.68C342.64,250.46 343.15,250.26 343.65,250.06C344.16,249.87 344.67,249.69 345.18,249.53C345.68,249.36 346.19,249.21 346.7,249.06C347.2,248.92 347.71,248.78 348.22,248.66C348.72,248.53 349.23,248.42 349.74,248.31C350.24,248.2 350.75,248.1 351.26,248.01C351.76,247.92 352.27,247.83 352.78,247.75C353.28,247.67 353.79,247.6 354.3,247.53C354.8,247.46 355.31,247.39 355.82,247.33C356.32,247.28 356.83,247.22 357.34,247.17C357.84,247.12 358.35,247.07 358.86,247.03C359.36,246.99 359.87,246.95 360.38,246.91C360.88,246.87 361.39,246.84 361.9,246.8C362.41,246.77 362.91,246.74 363.42,246.72C363.93,246.69 364.43,246.66 364.94,246.64C365.45,246.62 365.95,246.6 366.46,246.58C366.97,246.56 367.47,246.54 367.98,246.52C368.49,246.5 368.99,246.49 369.5,246.47C370.01,246.46 370.77,246.44 371.02,246.43" fill="none" stroke="#231f20" stroke-width="1.25"/>
<path d="M264.6,303.2C264.85,303.2 265.61,303.2 266.12,303.2C266.63,303.2 267.13,303.2 267.64,303.2C268.15,303.2 268.65,303.2 269.16,303.2C269.67,303.2 270.17,303.2 270.68,303.2C271.19,303.2 271.69,303.2 272.2,303.2C272.71,303.2 273.21,303.2 273.72,303.2C274.23,303.2 274.74,303.2 275.24,303.2C275.75,303.2 276.26,303.2 276.76,303.2C277.27,303.2 277.78,303.2 278.28,303.2C278.79,303.2 279.3,303.2 279.8,303.2C280.31,303.2 280.82,303.2 281.32,303.2C281.83,303.2 282.34,303.19 282.84,303.19C283.35,303.19 283.86,303.19 284.36,303.19C284.87,303.19 285.38,303.19 285.88,303.19C286.39,303.19 286.9,303.19 287.4,303.19C287.91,303.19 288.42,303.19 288.92,303.19C289.43,303.19 289.94,303.18 290.44,303.18C290.95,303.18 291.46,303.18 291.97,303.18C292.47,303.18 292.98,303.17 293.49,303.17C293.99,303.17 294.5,303.17 295.01,303.17C295.51,303.16 296.02,303.16 296.53,303.16C297.03,303.15 297.54,303.15 298.05,303.15C298.55,303.14 299.06,303.14 299.57,303.13C300.07,303.13 300.58,303.12 301.09,303.11C301.59,303.11 302.1,303.1 302.61,303.09C303.11,303.08 303.62,303.08 304.13,303.07C304.63,303.05 305.14,303.04 305.65,303.03C306.15,303.02 306.66,303 307.17,302.99C307.67,302.97 308.18,302.96 308.69,302.94C309.2,302.92 309.7,302.89 310.21,302.87C310.72,302.84 311.22,302.82 311.73,302.79C312.24,302.75 312.74,302.72 313.25,302.68C313.76,302.64 314.26,302.6 314.77,302.56C315.28,302.51 315.78,302.46 316.29,302.4C316.8,302.34 317.3,302.28 317.81,302.21C318.32,302.14 318.82,302.06 319.33,301.97C319.84,301.88 320.34,301.79 320.85,301.69C321.36,301.58 321.86,301.47 322.37,301.34C322.88,301.22 323.38,301.08 323.89,300.93C324.4,300.79 324.9,300.63 325.41,300.45C325.92,300.28 326.42,300.09 326.93,299.89C327.44,299.69 327.95,299.48 328.45,299.25C328.96,299.02 329.47,298.78 329.97,298.53C330.48,298.28 330.99,298.01 331.49,297.74C332,297.46 332.51,297.18 333.01,296.88C333.52,296.59 334.03,296.29 334.53,295.99C335.04,295.68 335.55,295.37 336.05,295.07C336.56,294.76 337.07,294.45 337.57,294.15C338.08,293.85 338.59,293.54 339.09,293.25C339.6,292.96 340.11,292.68 340.61,292.4C341.12,292.13 341.63,291.87 342.13,291.62C342.64,291.37 343.15,291.13 343.65,290.9C344.16,290.68 344.67,290.46 345.18,290.27C345.68,290.07 346.19,289.88 346.7,289.71C347.2,289.54 347.71,289.38 348.22,289.23C348.72,289.09 349.23,288.95 349.74,288.83C350.24,288.71 350.75,288.6 351.26,288.49C351.76,288.39 352.27,288.3 352.78,288.21C353.28,288.12 353.79,288.05 354.3,287.98C354.8,287.91 355.31,287.85 355.82,287.79C356.32,287.73 356.83,287.68 357.34,287.63C357.84,287.59 358.35,287.55 358.86,287.51C359.36,287.47 359.87,287.44 360.38,287.41C360.88,287.38 361.39,287.35 361.9,287.33C362.41,287.3 362.91,287.28 363.42,287.26C363.93,287.24 364.43,287.22 364.94,287.21C365.45,287.19 365.95,287.18 366.46,287.17C366.97,287.15 367.47,287.14 367.98,287.13C368.49,287.12 368.99,287.11 369.5,287.11C370.01,287.1 370.77,287.09 371.02,287.08" fill="none" stroke="#231f20" stroke-width="1.25"/>
<path d="M264.6,303.2C264.85,303.2 265.61,303.2 266.12,303.2C266.63,303.2 267.13,303.2 267.64,303.2C268.15,303.2 268.65,303.2 269.16,303.2C269.67,303.2 270.17,303.2 270.68,303.2C271.19,303.2 271.69,303.2 272.2,303.2C272.71,303.2 273.21,303.2 273.72,303.2C274.23,303.2 274.74,303.2 275.24,303.2C275.75,303.2 276.26,303.2 276.76,303.2C277.27,303.2 277.78,303.2 278.28,303.2C278.79,303.2 279.3,303.2 279.8,303.2C280.31,303.2 280.82,303.2 281.32,303.2C281.83,303.2 282.34,303.2 282.84,303.2C283.35,303.2 283.86,303.2 284.36,303.2C284.87,303.2 285.38,303.2 285.88,303.2C286.39,303.2 286.9,303.2 287.4,303.2C287.91,303.2 288.42,303.2 288.92,303.2C289.43,303.2 289.94,303.2 290.44,303.2C290.95,303.2 291.46,303.2 291.97,303.2C292.47,303.2 292.98,303.2 293.49,303.2C293.99,303.2 294.5,303.2 295.01,303.2C295.51,303.2 296.02,303.2 296.53,303.19C297.03,303.19 297.54,303.19 298.05,303.19C298.55,303.19 299.06,303.19 299.57,303.19C300.07,303.19 300.58,303.19 301.09,303.19C301.59,303.19 302.1,303.18 302.61,303.18C303.11,303.18 303.62,303.18 304.13,303.18C304.63,303.17 305.14,303.17 305.65,303.17C306.15,303.16 306.66,303.16 307.17,303.16C307.67,303.15 308.18,303.15 308.69,303.14C309.2,303.13 309.7,303.13 310.21,303.12C310.72,303.11 311.22,303.1 311.73,303.09C312.24,303.08 312.74,303.07 313.25,303.05C313.76,303.04 314.26,303.02 314.77,303C315.28,302.98 315.78,302.96 316.29,302.94C316.8,302.91 317.3,302.88 317.81,302.85C318.32,302.81 318.82,302.78 319.33,302.73C319.84,302.69 320.34,302.64 320.85,302.58C321.36,302.52 321.86,302.45 322.37,302.38C322.88,302.3 323.38,302.22 323.89,302.13C324.4,302.03 324.9,301.93 325.41,301.82C325.92,301.7 326.42,301.57 326.93,301.44C327.44,301.3 327.95,301.15 328.45,300.99C328.96,300.83 329.47,300.66 329.97,300.48C330.48,300.3 330.99,300.12 331.49,299.93C332,299.74 332.51,299.54 333.01,299.35C333.52,299.15 334.03,298.95 334.53,298.76C335.04,298.58 335.55,298.39 336.05,298.21C336.56,298.03 337.07,297.86 337.57,297.7C338.08,297.54 338.59,297.39 339.09,297.26C339.6,297.12 340.11,296.99 340.61,296.88C341.12,296.76 341.63,296.66 342.13,296.57C342.64,296.47 343.15,296.39 343.65,296.32C344.16,296.24 344.67,296.18 345.18,296.12C345.68,296.06 346.19,296.01 346.7,295.97C347.2,295.92 347.71,295.88 348.22,295.85C348.72,295.82 349.23,295.79 349.74,295.76C350.24,295.74 350.75,295.71 351.26,295.69C351.76,295.68 352.27,295.66 352.78,295.64C353.28,295.63 353.79,295.62 354.3,295.61C354.8,295.6 355.31,295.59 355.82,295.58C356.32,295.57 356.83,295.56 357.34,295.56C357.84,295.55 358.35,295.55 358.86,295.54C359.36,295.54 359.87,295.54 360.38,295.53C360.88,295.53 361.39,295.53 361.9,295.52C362.41,295.52 362.91,295.52 363.42,295.52C363.93,295.52 364.43,295.51 364.94,295.51C365.45,295.51 365.95,295.51 366.46,295.51C366.97,295.51 367.47,295.51 367.98,295.51C368.49,295.51 368.99,295.51 369.5,295.51C370.01,295.5 370.77,295.5 371.02,295.5" fill="none" stroke="#231f20" stroke-width="1.25"/>
<rect x="261.35" y="299.4" width="6.5" height="6.5" fill="#231f20"/>
<rect x="267.61" y="298.1" width="6.5" height="6.5" fill="#231f20"/>
<rect x="273.87" y="297.2" width="6.5" height="6.5" fill="#231f20"/>
<rect x="280.13" y="295.9" width="6.5" height="6.5" fill="#231f20"/>
<rect x="286.39" y="294.3" width="6.5" height="6.5" fill="#231f20"/>
<rect x="292.65" y="293.6" width="6.5" height="6.5" fill="#231f20"/>
<rect x="298.91" y="290.8" width="6.5" height="6.5" fill="#231f20"/>
<rect x="305.17" y="267.55" width="6.5" height="6.5" fill="#231f20"/>
<rect x="311.43" y="243.65" width="6.5" height="6.5" fill="#231f20"/>
<rect x="317.69" y="226.45" width="6.5" height="6.5" fill="#231f20"/>
<rect x="323.95" y="215.65" width="6.5" height="6.5" fill="#231f20"/>
<rect x="330.21" y="213.65" width="6.5" height="6.5" fill="#231f20"/>
<rect x="336.47" y="208.55" width="6.5" height="6.5" fill="#231f20"/>
<rect x="342.73" y="205.95" width="6.5" height="6.5" fill="#231f20"/>
<rect x="348.99" y="206.45" width="6.5" height="6.5" fill="#231f20"/>
<rect x="355.25" y="210.15" width="6.5" height="6.5" fill="#231f20"/>
<rect x="361.51" y="211.85" width="6.5" height="6.5" fill="#231f20"/>
<rect x="367.77" y="208.75" width="6.5" height="6.5" fill="#231f20"/>
<polygon points="302.16,294.44 305.46,300.38 298.86,300.38" fill="#231f20" stroke="#231f20" stroke-width="0.3" stroke-linejoin="round"/>
<polygon points="308.42,286.74 311.72,292.68 305.12,292.68" fill="#231f20" stroke="#231f20" stroke-width="0.3" stroke-linejoin="round"/>
<polygon points="314.68,277.94 317.98,283.88 311.38,283.88" fill="#231f20" stroke="#231f20" stroke-width="0.3" stroke-linejoin="round"/>
<polygon points="320.94,267.94 324.24,273.88 317.64,273.88" fill="#231f20" stroke="#231f20" stroke-width="0.3" stroke-linejoin="round"/>
<polygon points="327.2,259.94 330.5,265.88 323.9,265.88" fill="#231f20" stroke="#231f20" stroke-width="0.3" stroke-linejoin="round"/>
<polygon points="333.46,262.24 336.76,268.18 330.16,268.18" fill="#231f20" stroke="#231f20" stroke-width="0.3" stroke-linejoin="round"/>
<polygon points="339.72,249.24 343.02,255.18 336.42,255.18" fill="#231f20" stroke="#231f20" stroke-width="0.3" stroke-linejoin="round"/>
<polygon points="345.98,240.64 349.28,246.58 342.68,246.58" fill="#231f20" stroke="#231f20" stroke-width="0.3" stroke-linejoin="round"/>
<polygon points="352.24,244.64 355.54,250.58 348.94,250.58" fill="#231f20" stroke="#231f20" stroke-width="0.3" stroke-linejoin="round"/>
<polygon points="358.5,241.04 361.8,246.98 355.2,246.98" fill="#231f20" stroke="#231f20" stroke-width="0.3" stroke-linejoin="round"/>
<polygon points="364.76,242.64 368.06,248.58 361.46,248.58" fill="#231f20" stroke="#231f20" stroke-width="0.3" stroke-linejoin="round"/>
<polygon points="371.02,248.24 374.32,254.18 367.72,254.18" fill="#231f20" stroke="#231f20" stroke-width="0.3" stroke-linejoin="round"/>
<polygon points="264.6,300.06 267.6,305.46 261.6,305.46" fill="#fff" stroke="#231f20" stroke-width="1.05" stroke-linejoin="miter"/>
<polygon points="270.86,300.06 273.86,305.46 267.86,305.46" fill="#fff" stroke="#231f20" stroke-width="1.05" stroke-linejoin="miter"/>
<polygon points="277.12,300.06 280.12,305.46 274.12,305.46" fill="#fff" stroke="#231f20" stroke-width="1.05" stroke-linejoin="miter"/>
<polygon points="283.38,300.06 286.38,305.46 280.38,305.46" fill="#fff" stroke="#231f20" stroke-width="1.05" stroke-linejoin="miter"/>
<polygon points="289.64,300.06 292.64,305.46 286.64,305.46" fill="#fff" stroke="#231f20" stroke-width="1.05" stroke-linejoin="miter"/>
<polygon points="295.9,300.06 298.9,305.46 292.9,305.46" fill="#fff" stroke="#231f20" stroke-width="1.05" stroke-linejoin="miter"/>
<polygon points="302.16,300.06 305.16,305.46 299.16,305.46" fill="#fff" stroke="#231f20" stroke-width="1.05" stroke-linejoin="miter"/>
<polygon points="308.42,300.06 311.42,305.46 305.42,305.46" fill="#fff" stroke="#231f20" stroke-width="1.05" stroke-linejoin="miter"/>
<polygon points="314.68,300.06 317.68,305.46 311.68,305.46" fill="#fff" stroke="#231f20" stroke-width="1.05" stroke-linejoin="miter"/>
<polygon points="320.94,300.06 323.94,305.46 317.94,305.46" fill="#fff" stroke="#231f20" stroke-width="1.05" stroke-linejoin="miter"/>
<polygon points="327.2,294.46 330.2,299.86 324.2,299.86" fill="#fff" stroke="#231f20" stroke-width="1.05" stroke-linejoin="miter"/>
<polygon points="333.46,292.76 336.46,298.16 330.46,298.16" fill="#fff" stroke="#231f20" stroke-width="1.05" stroke-linejoin="miter"/>
<polygon points="339.72,289.06 342.72,294.46 336.72,294.46" fill="#fff" stroke="#231f20" stroke-width="1.05" stroke-linejoin="miter"/>
<polygon points="345.98,286.76 348.98,292.16 342.98,292.16" fill="#fff" stroke="#231f20" stroke-width="1.05" stroke-linejoin="miter"/>
<polygon points="352.24,279.76 355.24,285.16 349.24,285.16" fill="#fff" stroke="#231f20" stroke-width="1.05" stroke-linejoin="miter"/>
<polygon points="358.5,285.26 361.5,290.66 355.5,290.66" fill="#fff" stroke="#231f20" stroke-width="1.05" stroke-linejoin="miter"/>
<polygon points="364.76,285.96 367.76,291.36 361.76,291.36" fill="#fff" stroke="#231f20" stroke-width="1.05" stroke-linejoin="miter"/>
<polygon points="371.02,281.36 374.02,286.76 368.02,286.76" fill="#fff" stroke="#231f20" stroke-width="1.05" stroke-linejoin="miter"/>
<rect x="262" y="300.5" width="5.2" height="5.2" fill="#fff" stroke="#231f20" stroke-width="1.15"/>
<rect x="268.26" y="300.5" width="5.2" height="5.2" fill="#fff" stroke="#231f20" stroke-width="1.15"/>
<rect x="274.52" y="300.5" width="5.2" height="5.2" fill="#fff" stroke="#231f20" stroke-width="1.15"/>
<rect x="280.78" y="300.5" width="5.2" height="5.2" fill="#fff" stroke="#231f20" stroke-width="1.15"/>
<rect x="287.04" y="300.5" width="5.2" height="5.2" fill="#fff" stroke="#231f20" stroke-width="1.15"/>
<rect x="293.3" y="300.5" width="5.2" height="5.2" fill="#fff" stroke="#231f20" stroke-width="1.15"/>
<rect x="299.56" y="299.9" width="5.2" height="5.2" fill="#fff" stroke="#231f20" stroke-width="1.15"/>
<rect x="305.82" y="300.9" width="5.2" height="5.2" fill="#fff" stroke="#231f20" stroke-width="1.15"/>
<rect x="312.08" y="300.4" width="5.2" height="5.2" fill="#fff" stroke="#231f20" stroke-width="1.15"/>
<rect x="318.34" y="300" width="5.2" height="5.2" fill="#fff" stroke="#231f20" stroke-width="1.15"/>
<rect x="324.6" y="299.4" width="5.2" height="5.2" fill="#fff" stroke="#231f20" stroke-width="1.15"/>
<rect x="330.86" y="297.1" width="5.2" height="5.2" fill="#fff" stroke="#231f20" stroke-width="1.15"/>
<rect x="337.12" y="294.3" width="5.2" height="5.2" fill="#fff" stroke="#231f20" stroke-width="1.15"/>
<rect x="343.38" y="292.8" width="5.2" height="5.2" fill="#fff" stroke="#231f20" stroke-width="1.15"/>
<rect x="349.64" y="290.5" width="5.2" height="5.2" fill="#fff" stroke="#231f20" stroke-width="1.15"/>
<rect x="355.9" y="293.6" width="5.2" height="5.2" fill="#fff" stroke="#231f20" stroke-width="1.15"/>
<rect x="362.16" y="293.2" width="5.2" height="5.2" fill="#fff" stroke="#231f20" stroke-width="1.15"/>
<rect x="368.42" y="292.8" width="5.2" height="5.2" fill="#fff" stroke="#231f20" stroke-width="1.15"/>
<text x="395.2" y="206.9" text-anchor="start" font-size="10.8" font-weight="normal" >CD4<tspan dy='-4' font-size='7'>+</tspan></text>
<text x="436.7" y="206.9" text-anchor="start" font-size="10.8" font-weight="normal" >CD8<tspan dy='-4' font-size='7'>+</tspan></text>
<line x1="397.1" y1="220.4" x2="419.6" y2="220.4" stroke="#231f20" stroke-width="1.1"/>
<rect x="405.3" y="217.4" width="6.0" height="6.0" fill="#231f20"/>
<line x1="397.1" y1="234.4" x2="419.6" y2="234.4" stroke="#231f20" stroke-width="1.1"/>
<rect x="405.5" y="231.6" width="5.6" height="5.6" fill="#fff" stroke="#231f20" stroke-width="1.1"/>
<line x1="438" y1="220.4" x2="460.5" y2="220.4" stroke="#231f20" stroke-width="1.1"/>
<polygon points="449.2,216.19 453.1,223.21 445.3,223.21" fill="#231f20" stroke="#231f20" stroke-width="0.3" stroke-linejoin="round"/>
<line x1="438" y1="234.4" x2="460.5" y2="234.4" stroke="#231f20" stroke-width="1.1"/>
<polygon points="449.2,230.3 453,237.14 445.4,237.14" fill="#fff" stroke="#231f20" stroke-width="1.1" stroke-linejoin="miter"/>
<text x="471.7" y="224.2" text-anchor="start" font-size="10.8" font-weight="normal" >XmAb808</text>
<text x="471.7" y="238.2" text-anchor="start" font-size="10.8" font-weight="normal" >PBS</text>
<text x="5.7" y="394.8" text-anchor="start" font-size="14" font-weight="bold" >C</text>
<line x1="56.7" y1="392.7" x2="56.7" y2="499.4" stroke="#231f20" stroke-width="1.2"/>
<line x1="48.2" y1="499.4" x2="56.7" y2="499.4" stroke="#231f20" stroke-width="1.2"/>
<text x="45.7" y="503.7" text-anchor="end" font-size="10.3" font-weight="normal" >0</text>
<line x1="48.2" y1="472.72" x2="56.7" y2="472.72" stroke="#231f20" stroke-width="1.2"/>
<text x="45.7" y="477.02" text-anchor="end" font-size="10.3" font-weight="normal" >5</text>
<line x1="48.2" y1="446.05" x2="56.7" y2="446.05" stroke="#231f20" stroke-width="1.2"/>
<text x="45.7" y="450.35" text-anchor="end" font-size="10.3" font-weight="normal" >10</text>
<line x1="48.2" y1="419.38" x2="56.7" y2="419.38" stroke="#231f20" stroke-width="1.2"/>
<text x="45.7" y="423.68" text-anchor="end" font-size="10.3" font-weight="normal" >15</text>
<line x1="48.2" y1="392.7" x2="56.7" y2="392.7" stroke="#231f20" stroke-width="1.2"/>
<text x="45.7" y="397" text-anchor="end" font-size="10.3" font-weight="normal" >20</text>
<line x1="52.4" y1="486.06" x2="56.7" y2="486.06" stroke="#231f20" stroke-width="1.2"/>
<line x1="52.4" y1="459.39" x2="56.7" y2="459.39" stroke="#231f20" stroke-width="1.2"/>
<line x1="52.4" y1="432.71" x2="56.7" y2="432.71" stroke="#231f20" stroke-width="1.2"/>
<line x1="52.4" y1="406.04" x2="56.7" y2="406.04" stroke="#231f20" stroke-width="1.2"/>
<line x1="56.8" y1="499.4" x2="174.2" y2="499.4" stroke="#231f20" stroke-width="1.2"/>
<line x1="56.7" y1="499.4" x2="56.7" y2="507.6" stroke="#231f20" stroke-width="1.2"/>
<text x="56.7" y="518.7" text-anchor="middle" font-size="10.3" font-weight="normal" >−4</text>
<line x1="82.8" y1="499.4" x2="82.8" y2="507.6" stroke="#231f20" stroke-width="1.2"/>
<text x="82.8" y="518.7" text-anchor="middle" font-size="10.3" font-weight="normal" >−2</text>
<line x1="108.9" y1="499.4" x2="108.9" y2="507.6" stroke="#231f20" stroke-width="1.2"/>
<text x="108.9" y="518.7" text-anchor="middle" font-size="10.3" font-weight="normal" >0</text>
<line x1="135" y1="499.4" x2="135" y2="507.6" stroke="#231f20" stroke-width="1.2"/>
<text x="135" y="518.7" text-anchor="middle" font-size="10.3" font-weight="normal" >2</text>
<line x1="161.1" y1="499.4" x2="161.1" y2="507.6" stroke="#231f20" stroke-width="1.2"/>
<text x="161.1" y="518.7" text-anchor="middle" font-size="10.3" font-weight="normal" >4</text>
<line x1="69.75" y1="499.4" x2="69.75" y2="503.6" stroke="#231f20" stroke-width="1.2"/>
<line x1="95.85" y1="499.4" x2="95.85" y2="503.6" stroke="#231f20" stroke-width="1.2"/>
<line x1="121.95" y1="499.4" x2="121.95" y2="503.6" stroke="#231f20" stroke-width="1.2"/>
<line x1="148.05" y1="499.4" x2="148.05" y2="503.6" stroke="#231f20" stroke-width="1.2"/>
<line x1="174.15" y1="499.4" x2="174.15" y2="503.6" stroke="#231f20" stroke-width="1.2"/>
<text x="108.9" y="532" text-anchor="middle" font-size="10.8" font-weight="normal" >Log (XmAb808 (ng/mL))</text>
<text transform="translate(14.2,447.7) rotate(-90)" text-anchor="middle" font-size="10.8">CD4<tspan dy='-4' font-size='7'>+</tspan><tspan dy='4'> counts</tspan></text>
<text transform="translate(28,447.5) rotate(-90)" text-anchor="middle" font-size="10.8">(×1,000)</text>
<path d="M59.3,491.7C59.55,491.7 60.31,491.7 60.81,491.7C61.31,491.7 61.82,491.7 62.32,491.7C62.82,491.7 63.33,491.7 63.83,491.7C64.33,491.7 64.84,491.7 65.34,491.7C65.84,491.7 66.35,491.7 66.85,491.7C67.35,491.7 67.86,491.7 68.36,491.7C68.86,491.7 69.37,491.7 69.87,491.7C70.37,491.7 70.88,491.7 71.38,491.7C71.88,491.7 72.39,491.7 72.89,491.7C73.39,491.7 73.9,491.7 74.4,491.7C74.9,491.7 75.41,491.7 75.91,491.7C76.41,491.7 76.92,491.7 77.42,491.7C77.92,491.7 78.43,491.7 78.93,491.7C79.43,491.7 79.94,491.7 80.44,491.7C80.94,491.7 81.45,491.7 81.95,491.7C82.45,491.7 82.96,491.7 83.46,491.7C83.96,491.7 84.47,491.7 84.97,491.7C85.47,491.7 85.98,491.7 86.48,491.7C86.98,491.7 87.49,491.7 87.99,491.7C88.49,491.7 89,491.7 89.5,491.7C90,491.7 90.51,491.7 91.01,491.7C91.51,491.7 92.02,491.7 92.52,491.7C93.02,491.7 93.53,491.7 94.03,491.7C94.53,491.7 95.04,491.7 95.54,491.7C96.04,491.7 96.55,491.7 97.05,491.7C97.55,491.7 98.06,491.7 98.56,491.7C99.06,491.7 99.57,491.7 100.07,491.7C100.57,491.7 101.08,491.7 101.58,491.7C102.08,491.7 102.59,491.7 103.09,491.7C103.59,491.7 104.1,491.7 104.6,491.7C105.1,491.7 105.61,491.7 106.11,491.7C106.61,491.7 107.12,491.7 107.62,491.7C108.12,491.7 108.63,491.7 109.13,491.7C109.63,491.69 110.14,491.69 110.64,491.69C111.14,491.69 111.65,491.69 112.15,491.69C112.65,491.68 113.16,491.68 113.66,491.67C114.16,491.67 114.67,491.66 115.17,491.65C115.67,491.65 116.18,491.64 116.68,491.62C117.18,491.6 117.69,491.58 118.19,491.56C118.69,491.53 119.2,491.49 119.7,491.44C120.2,491.39 120.71,491.33 121.21,491.24C121.71,491.14 122.22,491.04 122.72,490.88C123.22,490.71 123.73,490.53 124.23,490.24C124.73,489.95 125.24,489.63 125.74,489.13C126.24,488.62 126.75,488.07 127.25,487.21C127.75,486.36 128.26,485.4 128.76,484.01C129.26,482.63 129.77,481.02 130.27,478.92C130.77,476.81 131.28,474.3 131.78,471.38C132.28,468.46 132.79,464.97 133.29,461.39C133.79,457.81 134.3,453.69 134.8,449.9C135.3,446.11 135.81,442.1 136.31,438.66C136.81,435.22 137.32,431.98 137.82,429.27C138.32,426.56 138.83,424.31 139.33,422.41C139.83,420.52 140.34,419.1 140.84,417.88C141.34,416.66 141.85,415.82 142.35,415.08C142.85,414.33 143.36,413.85 143.86,413.42C144.36,412.98 144.87,412.71 145.37,412.45C145.87,412.2 146.38,412.05 146.88,411.91C147.38,411.76 147.89,411.68 148.39,411.6C148.89,411.52 149.4,411.47 149.9,411.42C150.4,411.38 150.91,411.35 151.41,411.32C151.91,411.3 152.42,411.28 152.92,411.27C153.42,411.26 153.93,411.25 154.43,411.24C154.93,411.23 155.44,411.23 155.94,411.22C156.44,411.22 156.95,411.21 157.45,411.21C157.95,411.21 158.46,411.21 158.96,411.21C159.46,411.21 159.97,411.2 160.47,411.2C160.97,411.2 161.48,411.2 161.98,411.2C162.48,411.2 162.99,411.2 163.49,411.2C163.99,411.2 164.75,411.2 165,411.2" fill="none" stroke="#231f20" stroke-width="1.25"/>
<path d="M59.3,493.2C59.55,493.2 60.31,493.2 60.82,493.2C61.32,493.2 61.83,493.2 62.33,493.2C62.84,493.2 63.35,493.2 63.85,493.2C64.36,493.2 64.86,493.2 65.37,493.2C65.87,493.2 66.38,493.2 66.89,493.2C67.39,493.2 67.9,493.2 68.4,493.2C68.91,493.2 69.41,493.2 69.92,493.2C70.43,493.2 70.93,493.2 71.44,493.2C71.94,493.2 72.45,493.2 72.95,493.2C73.46,493.2 73.97,493.2 74.47,493.2C74.98,493.2 75.48,493.2 75.99,493.2C76.49,493.2 77,493.2 77.51,493.2C78.01,493.2 78.52,493.2 79.02,493.2C79.53,493.2 80.03,493.2 80.54,493.2C81.05,493.2 81.55,493.2 82.06,493.2C82.56,493.2 83.07,493.2 83.57,493.2C84.08,493.2 84.59,493.2 85.09,493.2C85.6,493.2 86.1,493.2 86.61,493.2C87.11,493.2 87.62,493.2 88.13,493.2C88.63,493.2 89.14,493.2 89.64,493.2C90.15,493.2 90.65,493.2 91.16,493.2C91.67,493.2 92.17,493.2 92.68,493.2C93.18,493.2 93.69,493.2 94.19,493.2C94.7,493.2 95.21,493.2 95.71,493.2C96.22,493.2 96.72,493.2 97.23,493.19C97.73,493.19 98.24,493.19 98.75,493.19C99.25,493.19 99.76,493.19 100.26,493.19C100.77,493.19 101.27,493.19 101.78,493.18C102.29,493.18 102.79,493.18 103.3,493.18C103.8,493.17 104.31,493.17 104.81,493.17C105.32,493.16 105.83,493.16 106.33,493.15C106.84,493.14 107.34,493.14 107.85,493.13C108.35,493.12 108.86,493.11 109.37,493.1C109.87,493.08 110.38,493.07 110.88,493.05C111.39,493.03 111.89,493.01 112.4,492.98C112.91,492.95 113.41,492.92 113.92,492.88C114.42,492.83 114.93,492.79 115.43,492.73C115.94,492.67 116.45,492.6 116.95,492.51C117.46,492.42 117.96,492.32 118.47,492.2C118.97,492.07 119.48,491.93 119.99,491.74C120.49,491.56 121,491.35 121.5,491.09C122.01,490.83 122.51,490.53 123.02,490.16C123.53,489.78 124.03,489.37 124.54,488.84C125.04,488.32 125.55,487.73 126.05,487.01C126.56,486.29 127.07,485.48 127.57,484.51C128.08,483.54 128.58,482.45 129.09,481.19C129.59,479.93 130.1,478.51 130.61,476.93C131.11,475.36 131.62,473.6 132.12,471.72C132.63,469.85 133.13,467.79 133.64,465.7C134.15,463.61 134.65,461.36 135.16,459.17C135.66,456.97 136.17,454.7 136.67,452.56C137.18,450.42 137.69,448.28 138.19,446.33C138.7,444.37 139.2,442.51 139.71,440.83C140.21,439.16 140.72,437.63 141.23,436.27C141.73,434.91 142.24,433.72 142.74,432.66C143.25,431.6 143.75,430.7 144.26,429.91C144.77,429.11 145.27,428.46 145.78,427.88C146.28,427.3 146.79,426.83 147.29,426.41C147.8,426 148.31,425.67 148.81,425.37C149.32,425.08 149.82,424.85 150.33,424.64C150.83,424.43 151.34,424.28 151.85,424.13C152.35,423.99 152.86,423.88 153.36,423.78C153.87,423.68 154.37,423.6 154.88,423.53C155.39,423.47 155.89,423.41 156.4,423.37C156.9,423.32 157.41,423.28 157.91,423.25C158.42,423.22 158.93,423.19 159.43,423.17C159.94,423.15 160.44,423.13 160.95,423.12C161.45,423.1 161.96,423.09 162.47,423.08C162.97,423.07 163.48,423.06 163.98,423.06C164.49,423.05 165.25,423.04 165.5,423.04" fill="none" stroke="#231f20" stroke-width="1.25"/>
<polyline points="59.3,493 121.8,493 128.05,496.5 165.55,496.5" fill="none" stroke="#231f20" stroke-width="1.1"/>
<polygon points="59.3,489.65 62.4,495.23 56.2,495.23" fill="#231f20" stroke="#231f20" stroke-width="0.3" stroke-linejoin="round"/>
<polygon points="65.55,489.65 68.65,495.23 62.45,495.23" fill="#231f20" stroke="#231f20" stroke-width="0.3" stroke-linejoin="round"/>
<polygon points="71.8,489.65 74.9,495.23 68.7,495.23" fill="#231f20" stroke="#231f20" stroke-width="0.3" stroke-linejoin="round"/>
<polygon points="78.05,489.65 81.15,495.23 74.95,495.23" fill="#231f20" stroke="#231f20" stroke-width="0.3" stroke-linejoin="round"/>
<polygon points="84.3,489.65 87.4,495.23 81.2,495.23" fill="#231f20" stroke="#231f20" stroke-width="0.3" stroke-linejoin="round"/>
<polygon points="90.55,489.65 93.65,495.23 87.45,495.23" fill="#231f20" stroke="#231f20" stroke-width="0.3" stroke-linejoin="round"/>
<polygon points="96.8,489.65 99.9,495.23 93.7,495.23" fill="#231f20" stroke="#231f20" stroke-width="0.3" stroke-linejoin="round"/>
<polygon points="103.05,489.65 106.15,495.23 99.95,495.23" fill="#231f20" stroke="#231f20" stroke-width="0.3" stroke-linejoin="round"/>
<polygon points="109.3,489.65 112.4,495.23 106.2,495.23" fill="#231f20" stroke="#231f20" stroke-width="0.3" stroke-linejoin="round"/>
<polygon points="115.55,489.65 118.65,495.23 112.45,495.23" fill="#231f20" stroke="#231f20" stroke-width="0.3" stroke-linejoin="round"/>
<polygon points="121.8,489.65 124.9,495.23 118.7,495.23" fill="#231f20" stroke="#231f20" stroke-width="0.3" stroke-linejoin="round"/>
<polygon points="128.05,492.95 131.15,498.53 124.95,498.53" fill="#231f20" stroke="#231f20" stroke-width="0.3" stroke-linejoin="round"/>
<polygon points="134.3,492.95 137.4,498.53 131.2,498.53" fill="#231f20" stroke="#231f20" stroke-width="0.3" stroke-linejoin="round"/>
<polygon points="140.55,492.95 143.65,498.53 137.45,498.53" fill="#231f20" stroke="#231f20" stroke-width="0.3" stroke-linejoin="round"/>
<polygon points="146.8,492.95 149.9,498.53 143.7,498.53" fill="#231f20" stroke="#231f20" stroke-width="0.3" stroke-linejoin="round"/>
<polygon points="153.05,492.95 156.15,498.53 149.95,498.53" fill="#231f20" stroke="#231f20" stroke-width="0.3" stroke-linejoin="round"/>
<polygon points="159.3,492.95 162.4,498.53 156.2,498.53" fill="#231f20" stroke="#231f20" stroke-width="0.3" stroke-linejoin="round"/>
<polygon points="165.55,492.95 168.65,498.53 162.45,498.53" fill="#231f20" stroke="#231f20" stroke-width="0.3" stroke-linejoin="round"/>
<rect x="56.15" y="490.05" width="6.3" height="6.3" fill="#231f20"/>
<rect x="62.4" y="490.05" width="6.3" height="6.3" fill="#231f20"/>
<rect x="68.65" y="490.05" width="6.3" height="6.3" fill="#231f20"/>
<rect x="74.9" y="490.05" width="6.3" height="6.3" fill="#231f20"/>
<rect x="81.15" y="490.05" width="6.3" height="6.3" fill="#231f20"/>
<rect x="87.4" y="490.05" width="6.3" height="6.3" fill="#231f20"/>
<rect x="93.65" y="490.05" width="6.3" height="6.3" fill="#231f20"/>
<rect x="99.9" y="490.05" width="6.3" height="6.3" fill="#231f20"/>
<rect x="106.15" y="490.05" width="6.3" height="6.3" fill="#231f20"/>
<rect x="112.4" y="490.05" width="6.3" height="6.3" fill="#231f20"/>
<rect x="118.65" y="490.05" width="6.3" height="6.3" fill="#231f20"/>
<rect x="124.9" y="486.35" width="6.3" height="6.3" fill="#231f20"/>
<rect x="131.15" y="461.65" width="6.3" height="6.3" fill="#231f20"/>
<rect x="137.4" y="437.95" width="6.3" height="6.3" fill="#231f20"/>
<rect x="143.65" y="427.95" width="6.3" height="6.3" fill="#231f20"/>
<rect x="149.9" y="415.55" width="6.3" height="6.3" fill="#231f20"/>
<rect x="156.15" y="417.85" width="6.3" height="6.3" fill="#231f20"/>
<rect x="162.4" y="425.35" width="6.3" height="6.3" fill="#231f20"/>
<circle cx="59.3" cy="491.7" r="3.4" fill="#231f20"/>
<circle cx="65.55" cy="491.7" r="3.4" fill="#231f20"/>
<circle cx="71.8" cy="491.7" r="3.4" fill="#231f20"/>
<circle cx="78.05" cy="491.7" r="3.4" fill="#231f20"/>
<circle cx="84.3" cy="491.7" r="3.4" fill="#231f20"/>
<circle cx="90.55" cy="491.7" r="3.4" fill="#231f20"/>
<circle cx="96.8" cy="491.7" r="3.4" fill="#231f20"/>
<circle cx="103.05" cy="491.7" r="3.4" fill="#231f20"/>
<circle cx="109.3" cy="491.7" r="3.4" fill="#231f20"/>
<circle cx="115.55" cy="491.7" r="3.4" fill="#231f20"/>
<circle cx="121.8" cy="491.7" r="3.4" fill="#231f20"/>
<circle cx="128.05" cy="486.3" r="3.4" fill="#231f20"/>
<circle cx="134.3" cy="458" r="3.4" fill="#231f20"/>
<circle cx="140.55" cy="421" r="3.4" fill="#231f20"/>
<circle cx="146.8" cy="416.4" r="3.4" fill="#231f20"/>
<circle cx="153.05" cy="405.9" r="3.4" fill="#231f20"/>
<circle cx="159.3" cy="426.3" r="3.4" fill="#231f20"/>
<circle cx="165.55" cy="398.8" r="3.4" fill="#231f20"/>
<line x1="262.4" y1="393.6" x2="262.4" y2="500.6" stroke="#231f20" stroke-width="1.2"/>
<line x1="253.9" y1="500.6" x2="262.4" y2="500.6" stroke="#231f20" stroke-width="1.2"/>
<text x="251.3" y="504.9" text-anchor="end" font-size="10.3" font-weight="normal" >0</text>
<line x1="253.9" y1="479.2" x2="262.4" y2="479.2" stroke="#231f20" stroke-width="1.2"/>
<text x="251.3" y="483.5" text-anchor="end" font-size="10.3" font-weight="normal" >2</text>
<line x1="253.9" y1="457.8" x2="262.4" y2="457.8" stroke="#231f20" stroke-width="1.2"/>
<text x="251.3" y="462.1" text-anchor="end" font-size="10.3" font-weight="normal" >4</text>
<line x1="253.9" y1="436.4" x2="262.4" y2="436.4" stroke="#231f20" stroke-width="1.2"/>
<text x="251.3" y="440.7" text-anchor="end" font-size="10.3" font-weight="normal" >6</text>
<line x1="253.9" y1="415" x2="262.4" y2="415" stroke="#231f20" stroke-width="1.2"/>
<text x="251.3" y="419.3" text-anchor="end" font-size="10.3" font-weight="normal" >8</text>
<line x1="253.9" y1="393.6" x2="262.4" y2="393.6" stroke="#231f20" stroke-width="1.2"/>
<text x="251.3" y="397.9" text-anchor="end" font-size="10.3" font-weight="normal" >10</text>
<line x1="258.1" y1="489.9" x2="262.4" y2="489.9" stroke="#231f20" stroke-width="1.2"/>
<line x1="258.1" y1="468.5" x2="262.4" y2="468.5" stroke="#231f20" stroke-width="1.2"/>
<line x1="258.1" y1="447.1" x2="262.4" y2="447.1" stroke="#231f20" stroke-width="1.2"/>
<line x1="258.1" y1="425.7" x2="262.4" y2="425.7" stroke="#231f20" stroke-width="1.2"/>
<line x1="258.1" y1="404.3" x2="262.4" y2="404.3" stroke="#231f20" stroke-width="1.2"/>
<line x1="262.4" y1="500.5" x2="379.8" y2="500.5" stroke="#231f20" stroke-width="1.2"/>
<line x1="262.4" y1="500.5" x2="262.4" y2="508.7" stroke="#231f20" stroke-width="1.2"/>
<text x="262.4" y="518.7" text-anchor="middle" font-size="10.3" font-weight="normal" >−4</text>
<line x1="288.5" y1="500.5" x2="288.5" y2="508.7" stroke="#231f20" stroke-width="1.2"/>
<text x="288.5" y="518.7" text-anchor="middle" font-size="10.3" font-weight="normal" >−2</text>
<line x1="314.6" y1="500.5" x2="314.6" y2="508.7" stroke="#231f20" stroke-width="1.2"/>
<text x="314.6" y="518.7" text-anchor="middle" font-size="10.3" font-weight="normal" >0</text>
<line x1="340.7" y1="500.5" x2="340.7" y2="508.7" stroke="#231f20" stroke-width="1.2"/>
<text x="340.7" y="518.7" text-anchor="middle" font-size="10.3" font-weight="normal" >2</text>
<line x1="366.8" y1="500.5" x2="366.8" y2="508.7" stroke="#231f20" stroke-width="1.2"/>
<text x="366.8" y="518.7" text-anchor="middle" font-size="10.3" font-weight="normal" >4</text>
<line x1="275.45" y1="500.5" x2="275.45" y2="504.7" stroke="#231f20" stroke-width="1.2"/>
<line x1="301.55" y1="500.5" x2="301.55" y2="504.7" stroke="#231f20" stroke-width="1.2"/>
<line x1="327.65" y1="500.5" x2="327.65" y2="504.7" stroke="#231f20" stroke-width="1.2"/>
<line x1="353.75" y1="500.5" x2="353.75" y2="504.7" stroke="#231f20" stroke-width="1.2"/>
<line x1="379.85" y1="500.5" x2="379.85" y2="504.7" stroke="#231f20" stroke-width="1.2"/>
<text x="314.6" y="532" text-anchor="middle" font-size="10.8" font-weight="normal" >Log (XmAb808 (ng/mL))</text>
<text transform="translate(223,448.2) rotate(-90)" text-anchor="middle" font-size="10.8">CD8<tspan dy='-4' font-size='7'>+</tspan><tspan dy='4'> counts</tspan></text>
<text transform="translate(236.8,448.2) rotate(-90)" text-anchor="middle" font-size="10.8">(×1,000)</text>
<path d="M264.6,492.6C264.85,492.6 265.61,492.6 266.12,492.6C266.63,492.6 267.13,492.6 267.64,492.6C268.15,492.6 268.65,492.6 269.16,492.6C269.67,492.6 270.17,492.6 270.68,492.6C271.19,492.6 271.69,492.6 272.2,492.6C272.71,492.6 273.21,492.6 273.72,492.6C274.23,492.6 274.73,492.6 275.24,492.6C275.75,492.6 276.25,492.6 276.76,492.6C277.27,492.6 277.77,492.6 278.28,492.6C278.79,492.6 279.29,492.6 279.8,492.6C280.31,492.6 280.81,492.6 281.32,492.6C281.83,492.6 282.33,492.6 282.84,492.6C283.35,492.6 283.85,492.6 284.36,492.6C284.87,492.6 285.37,492.6 285.88,492.6C286.39,492.6 286.89,492.6 287.4,492.6C287.91,492.6 288.41,492.6 288.92,492.6C289.43,492.6 289.93,492.6 290.44,492.6C290.95,492.6 291.45,492.6 291.96,492.6C292.47,492.6 292.97,492.6 293.48,492.6C293.99,492.6 294.49,492.6 295,492.6C295.51,492.6 296.01,492.6 296.52,492.6C297.03,492.6 297.53,492.6 298.04,492.6C298.55,492.6 299.05,492.6 299.56,492.6C300.07,492.6 300.57,492.6 301.08,492.6C301.59,492.6 302.09,492.6 302.6,492.6C303.11,492.6 303.61,492.6 304.12,492.6C304.63,492.6 305.13,492.6 305.64,492.6C306.15,492.6 306.65,492.6 307.16,492.6C307.67,492.6 308.17,492.6 308.68,492.6C309.19,492.6 309.69,492.6 310.2,492.6C310.71,492.6 311.21,492.6 311.72,492.6C312.23,492.6 312.73,492.6 313.24,492.6C313.75,492.6 314.25,492.6 314.76,492.6C315.27,492.6 315.77,492.6 316.28,492.6C316.79,492.6 317.29,492.6 317.8,492.6C318.31,492.6 318.81,492.6 319.32,492.6C319.83,492.6 320.33,492.59 320.84,492.59C321.35,492.59 321.85,492.59 322.36,492.58C322.87,492.58 323.37,492.57 323.88,492.56C324.39,492.55 324.89,492.54 325.4,492.52C325.91,492.5 326.41,492.48 326.92,492.44C327.43,492.39 327.93,492.35 328.44,492.25C328.95,492.15 329.45,492.06 329.96,491.85C330.47,491.65 330.97,491.45 331.48,491.02C331.99,490.59 332.49,490.16 333,489.3C333.51,488.44 334.01,487.5 334.52,485.87C335.03,484.24 335.53,482.3 336.04,479.52C336.55,476.74 337.05,473.19 337.56,469.18C338.07,465.17 338.57,460.08 339.08,455.45C339.59,450.82 340.09,445.59 340.6,441.42C341.11,437.25 341.61,433.42 342.12,430.44C342.63,427.45 343.13,425.29 343.64,423.5C344.15,421.72 344.65,420.66 345.16,419.7C345.67,418.75 346.17,418.25 346.68,417.78C347.19,417.3 347.69,417.07 348.2,416.84C348.71,416.61 349.21,416.51 349.72,416.4C350.23,416.29 350.73,416.24 351.24,416.19C351.75,416.13 352.25,416.11 352.76,416.09C353.27,416.06 353.77,416.05 354.28,416.04C354.79,416.03 355.29,416.02 355.8,416.02C356.31,416.01 356.81,416.01 357.32,416.01C357.83,416.01 358.33,416.01 358.84,416C359.35,416 359.85,416 360.36,416C360.87,416 361.37,416 361.88,416C362.39,416 362.89,416 363.4,416C363.91,416 364.41,416 364.92,416C365.43,416 365.93,416 366.44,416C366.95,416 367.45,416 367.96,416C368.47,416 368.97,416 369.48,416C369.99,416 370.75,416 371,416" fill="none" stroke="#231f20" stroke-width="1.25"/>
<path d="M264.6,492.8C264.85,492.8 265.61,492.8 266.12,492.8C266.63,492.8 267.13,492.8 267.64,492.8C268.15,492.8 268.65,492.8 269.16,492.8C269.67,492.8 270.17,492.8 270.68,492.8C271.19,492.8 271.69,492.8 272.2,492.8C272.71,492.8 273.21,492.8 273.72,492.8C274.23,492.8 274.73,492.8 275.24,492.8C275.75,492.8 276.25,492.8 276.76,492.8C277.27,492.8 277.77,492.8 278.28,492.8C278.79,492.8 279.29,492.8 279.8,492.8C280.31,492.8 280.81,492.8 281.32,492.8C281.83,492.8 282.33,492.8 282.84,492.8C283.35,492.8 283.85,492.8 284.36,492.8C284.87,492.8 285.37,492.8 285.88,492.8C286.39,492.8 286.89,492.8 287.4,492.8C287.91,492.8 288.41,492.8 288.92,492.8C289.43,492.8 289.93,492.8 290.44,492.8C290.95,492.8 291.45,492.8 291.96,492.8C292.47,492.8 292.97,492.8 293.48,492.8C293.99,492.8 294.49,492.8 295,492.8C295.51,492.8 296.01,492.8 296.52,492.8C297.03,492.8 297.53,492.8 298.04,492.8C298.55,492.8 299.05,492.8 299.56,492.8C300.07,492.8 300.57,492.8 301.08,492.8C301.59,492.8 302.09,492.8 302.6,492.8C303.11,492.8 303.61,492.8 304.12,492.8C304.63,492.8 305.13,492.8 305.64,492.8C306.15,492.8 306.65,492.8 307.16,492.8C307.67,492.8 308.17,492.8 308.68,492.8C309.19,492.8 309.69,492.8 310.2,492.8C310.71,492.8 311.21,492.8 311.72,492.8C312.23,492.8 312.73,492.8 313.24,492.8C313.75,492.8 314.25,492.8 314.76,492.8C315.27,492.8 315.77,492.8 316.28,492.8C316.79,492.8 317.29,492.8 317.8,492.79C318.31,492.79 318.81,492.79 319.32,492.79C319.83,492.79 320.33,492.78 320.84,492.78C321.35,492.77 321.85,492.76 322.36,492.75C322.87,492.74 323.37,492.73 323.88,492.71C324.39,492.68 324.89,492.66 325.4,492.62C325.91,492.57 326.41,492.53 326.92,492.44C327.43,492.35 327.93,492.26 328.44,492.09C328.95,491.91 329.45,491.73 329.96,491.4C330.47,491.06 330.97,490.71 331.48,490.07C331.99,489.43 332.49,488.74 333,487.57C333.51,486.41 334.01,485.07 334.52,483.1C335.03,481.12 335.53,478.71 336.04,475.7C336.55,472.69 337.05,468.93 337.56,465.03C338.07,461.12 338.57,456.42 339.08,452.25C339.59,448.08 340.09,443.62 340.6,439.99C341.11,436.37 341.61,433.11 342.12,430.49C342.63,427.87 343.13,425.91 343.64,424.26C344.15,422.62 344.65,421.56 345.16,420.63C345.67,419.69 346.17,419.14 346.68,418.64C347.19,418.13 347.69,417.86 348.2,417.59C348.71,417.33 349.21,417.19 349.72,417.06C350.23,416.92 350.73,416.85 351.24,416.78C351.75,416.71 352.25,416.68 352.76,416.64C353.27,416.61 353.77,416.59 354.28,416.57C354.79,416.55 355.29,416.55 355.8,416.54C356.31,416.53 356.81,416.52 357.32,416.52C357.83,416.51 358.33,416.51 358.84,416.51C359.35,416.51 359.85,416.51 360.36,416.5C360.87,416.5 361.37,416.5 361.88,416.5C362.39,416.5 362.89,416.5 363.4,416.5C363.91,416.5 364.41,416.5 364.92,416.5C365.43,416.5 365.93,416.5 366.44,416.5C366.95,416.5 367.45,416.5 367.96,416.5C368.47,416.5 368.97,416.5 369.48,416.5C369.99,416.5 370.75,416.5 371,416.5" fill="none" stroke="#231f20" stroke-width="1.25"/>
<polyline points="264.6,496.5 327.1,496.5 333.35,497.6 370.85,497.6" fill="none" stroke="#231f20" stroke-width="1.1"/>
<polygon points="264.6,492.65 267.7,498.23 261.5,498.23" fill="#231f20" stroke="#231f20" stroke-width="0.3" stroke-linejoin="round"/>
<polygon points="270.85,492.65 273.95,498.23 267.75,498.23" fill="#231f20" stroke="#231f20" stroke-width="0.3" stroke-linejoin="round"/>
<polygon points="277.1,492.65 280.2,498.23 274,498.23" fill="#231f20" stroke="#231f20" stroke-width="0.3" stroke-linejoin="round"/>
<polygon points="283.35,492.65 286.45,498.23 280.25,498.23" fill="#231f20" stroke="#231f20" stroke-width="0.3" stroke-linejoin="round"/>
<polygon points="289.6,492.65 292.7,498.23 286.5,498.23" fill="#231f20" stroke="#231f20" stroke-width="0.3" stroke-linejoin="round"/>
<polygon points="295.85,492.65 298.95,498.23 292.75,498.23" fill="#231f20" stroke="#231f20" stroke-width="0.3" stroke-linejoin="round"/>
<polygon points="302.1,492.65 305.2,498.23 299,498.23" fill="#231f20" stroke="#231f20" stroke-width="0.3" stroke-linejoin="round"/>
<polygon points="308.35,492.65 311.45,498.23 305.25,498.23" fill="#231f20" stroke="#231f20" stroke-width="0.3" stroke-linejoin="round"/>
<polygon points="314.6,492.65 317.7,498.23 311.5,498.23" fill="#231f20" stroke="#231f20" stroke-width="0.3" stroke-linejoin="round"/>
<polygon points="320.85,492.65 323.95,498.23 317.75,498.23" fill="#231f20" stroke="#231f20" stroke-width="0.3" stroke-linejoin="round"/>
<polygon points="327.1,492.65 330.2,498.23 324,498.23" fill="#231f20" stroke="#231f20" stroke-width="0.3" stroke-linejoin="round"/>
<polygon points="333.35,494.05 336.45,499.63 330.25,499.63" fill="#231f20" stroke="#231f20" stroke-width="0.3" stroke-linejoin="round"/>
<polygon points="339.6,494.05 342.7,499.63 336.5,499.63" fill="#231f20" stroke="#231f20" stroke-width="0.3" stroke-linejoin="round"/>
<polygon points="345.85,494.05 348.95,499.63 342.75,499.63" fill="#231f20" stroke="#231f20" stroke-width="0.3" stroke-linejoin="round"/>
<polygon points="352.1,494.05 355.2,499.63 349,499.63" fill="#231f20" stroke="#231f20" stroke-width="0.3" stroke-linejoin="round"/>
<polygon points="358.35,494.05 361.45,499.63 355.25,499.63" fill="#231f20" stroke="#231f20" stroke-width="0.3" stroke-linejoin="round"/>
<polygon points="364.6,494.05 367.7,499.63 361.5,499.63" fill="#231f20" stroke="#231f20" stroke-width="0.3" stroke-linejoin="round"/>
<polygon points="370.85,494.05 373.95,499.63 367.75,499.63" fill="#231f20" stroke="#231f20" stroke-width="0.3" stroke-linejoin="round"/>
<rect x="261.45" y="489.65" width="6.3" height="6.3" fill="#231f20"/>
<rect x="267.7" y="489.65" width="6.3" height="6.3" fill="#231f20"/>
<rect x="273.95" y="489.65" width="6.3" height="6.3" fill="#231f20"/>
<rect x="280.2" y="489.65" width="6.3" height="6.3" fill="#231f20"/>
<rect x="286.45" y="489.65" width="6.3" height="6.3" fill="#231f20"/>
<rect x="292.7" y="489.65" width="6.3" height="6.3" fill="#231f20"/>
<rect x="298.95" y="489.65" width="6.3" height="6.3" fill="#231f20"/>
<rect x="305.2" y="489.65" width="6.3" height="6.3" fill="#231f20"/>
<rect x="311.45" y="489.65" width="6.3" height="6.3" fill="#231f20"/>
<rect x="317.7" y="489.65" width="6.3" height="6.3" fill="#231f20"/>
<rect x="323.95" y="489.65" width="6.3" height="6.3" fill="#231f20"/>
<rect x="330.2" y="488.35" width="6.3" height="6.3" fill="#231f20"/>
<rect x="336.45" y="442.05" width="6.3" height="6.3" fill="#231f20"/>
<rect x="342.7" y="418.05" width="6.3" height="6.3" fill="#231f20"/>
<rect x="348.95" y="418.05" width="6.3" height="6.3" fill="#231f20"/>
<rect x="355.2" y="400.75" width="6.3" height="6.3" fill="#231f20"/>
<rect x="361.45" y="415.25" width="6.3" height="6.3" fill="#231f20"/>
<rect x="367.7" y="410.55" width="6.3" height="6.3" fill="#231f20"/>
<circle cx="264.6" cy="492.6" r="3.4" fill="#231f20"/>
<circle cx="270.85" cy="492.6" r="3.4" fill="#231f20"/>
<circle cx="277.1" cy="492.6" r="3.4" fill="#231f20"/>
<circle cx="283.35" cy="492.6" r="3.4" fill="#231f20"/>
<circle cx="289.6" cy="492.6" r="3.4" fill="#231f20"/>
<circle cx="295.85" cy="492.6" r="3.4" fill="#231f20"/>
<circle cx="302.1" cy="492.6" r="3.4" fill="#231f20"/>
<circle cx="308.35" cy="492.6" r="3.4" fill="#231f20"/>
<circle cx="314.6" cy="492.6" r="3.4" fill="#231f20"/>
<circle cx="320.85" cy="492.6" r="3.4" fill="#231f20"/>
<circle cx="327.1" cy="492.6" r="3.4" fill="#231f20"/>
<circle cx="333.35" cy="485" r="3.4" fill="#231f20"/>
<circle cx="339.6" cy="454.3" r="3.4" fill="#231f20"/>
<circle cx="345.85" cy="413.7" r="3.4" fill="#231f20"/>
<circle cx="352.1" cy="422" r="3.4" fill="#231f20"/>
<circle cx="358.35" cy="414.6" r="3.4" fill="#231f20"/>
<circle cx="364.6" cy="435.7" r="3.4" fill="#231f20"/>
<circle cx="370.85" cy="402.6" r="3.4" fill="#231f20"/>
<text x="390.5" y="403.5" text-anchor="start" font-size="10.8" font-weight="normal" >EpCAMxCD3 plus</text>
<line x1="397" y1="419.3" x2="419.5" y2="419.3" stroke="#231f20" stroke-width="1.1"/>
<circle cx="408.1" cy="419.3" r="3.55" fill="#231f20"/>
<line x1="397" y1="437" x2="419.5" y2="437" stroke="#231f20" stroke-width="1.1"/>
<polygon points="408.1,433.42 411.6,439.72 404.6,439.72" fill="#231f20" stroke="#231f20" stroke-width="0.3" stroke-linejoin="round"/>
<line x1="397" y1="451.4" x2="419.5" y2="451.4" stroke="#231f20" stroke-width="1.1"/>
<rect x="405.3" y="448.6" width="5.6" height="5.6" fill="#231f20"/>
<text x="431" y="423.1" text-anchor="start" font-size="10.8" font-weight="normal" >Isotype control</text>
<text x="431" y="439.9" text-anchor="start" font-size="10.8" font-weight="normal" >Anti-IL2</text>
<text x="431" y="455.2" text-anchor="start" font-size="10.8" font-weight="normal" >Anti-IFNγ</text>
<text x="5.5" y="573" text-anchor="start" font-size="14" font-weight="bold" >D</text>
<line x1="56.8" y1="571.4" x2="56.8" y2="757.4" stroke="#231f20" stroke-width="1.2"/>
<line x1="48.3" y1="757.4" x2="56.8" y2="757.4" stroke="#231f20" stroke-width="1.2"/>
<text x="44.9" y="761.7" text-anchor="end" font-size="10.3" font-weight="normal" >0</text>
<line x1="48.3" y1="710.9" x2="56.8" y2="710.9" stroke="#231f20" stroke-width="1.2"/>
<text x="44.9" y="715.2" text-anchor="end" font-size="10.3" font-weight="normal" >2</text>
<line x1="48.3" y1="664.4" x2="56.8" y2="664.4" stroke="#231f20" stroke-width="1.2"/>
<text x="44.9" y="668.7" text-anchor="end" font-size="10.3" font-weight="normal" >4</text>
<line x1="48.3" y1="617.9" x2="56.8" y2="617.9" stroke="#231f20" stroke-width="1.2"/>
<text x="44.9" y="622.2" text-anchor="end" font-size="10.3" font-weight="normal" >6</text>
<line x1="48.3" y1="571.4" x2="56.8" y2="571.4" stroke="#231f20" stroke-width="1.2"/>
<text x="44.9" y="575.7" text-anchor="end" font-size="10.3" font-weight="normal" >8</text>
<line x1="52.5" y1="734.15" x2="56.8" y2="734.15" stroke="#231f20" stroke-width="1.2"/>
<line x1="52.5" y1="687.65" x2="56.8" y2="687.65" stroke="#231f20" stroke-width="1.2"/>
<line x1="52.5" y1="641.15" x2="56.8" y2="641.15" stroke="#231f20" stroke-width="1.2"/>
<line x1="52.5" y1="594.65" x2="56.8" y2="594.65" stroke="#231f20" stroke-width="1.2"/>
<line x1="48.3" y1="757.4" x2="429" y2="757.4" stroke="#231f20" stroke-width="1.2"/>
<line x1="56.8" y1="757.4" x2="56.8" y2="765.6" stroke="#231f20" stroke-width="1.2"/>
<text x="56.8" y="777.6" text-anchor="middle" font-size="10.3" font-weight="normal" >0</text>
<line x1="149.85" y1="757.4" x2="149.85" y2="765.6" stroke="#231f20" stroke-width="1.2"/>
<text x="149.85" y="777.6" text-anchor="middle" font-size="10.3" font-weight="normal" >2</text>
<line x1="242.9" y1="757.4" x2="242.9" y2="765.6" stroke="#231f20" stroke-width="1.2"/>
<text x="242.9" y="777.6" text-anchor="middle" font-size="10.3" font-weight="normal" >4</text>
<line x1="335.95" y1="757.4" x2="335.95" y2="765.6" stroke="#231f20" stroke-width="1.2"/>
<text x="335.95" y="777.6" text-anchor="middle" font-size="10.3" font-weight="normal" >6</text>
<line x1="429" y1="757.4" x2="429" y2="765.6" stroke="#231f20" stroke-width="1.2"/>
<text x="429" y="777.6" text-anchor="middle" font-size="10.3" font-weight="normal" >8</text>
<line x1="103.32" y1="757.4" x2="103.32" y2="761.6" stroke="#231f20" stroke-width="1.2"/>
<line x1="196.38" y1="757.4" x2="196.38" y2="761.6" stroke="#231f20" stroke-width="1.2"/>
<line x1="289.43" y1="757.4" x2="289.43" y2="761.6" stroke="#231f20" stroke-width="1.2"/>
<line x1="382.48" y1="757.4" x2="382.48" y2="761.6" stroke="#231f20" stroke-width="1.2"/>
<text x="243" y="791.3" text-anchor="middle" font-size="10.8" font-weight="normal" >Time (days)</text>
<text transform="translate(18.4,664.5) rotate(-90)" text-anchor="middle" font-size="10.8">22Rv1-NLR cell counts</text>
<text transform="translate(31.3,664.3) rotate(-90)" text-anchor="middle" font-size="10.8">(×1,000)</text>
<rect x="73.2" y="583.2" width="190.7" height="34.3" fill="#e4e4e4"/>
<line x1="73.2" y1="617.7" x2="264" y2="617.7" stroke="#231f20" stroke-width="1.4"/>
<text x="93.5" y="598.2" text-anchor="middle" font-size="10.8" font-weight="normal" >−</text>
<text x="123.7" y="598.2" text-anchor="middle" font-size="10.8" font-weight="normal" >+</text>
<text x="156.7" y="598.2" text-anchor="middle" font-size="10.8" font-weight="normal" >+</text>
<text x="93.5" y="612.2" text-anchor="middle" font-size="10.8" font-weight="normal" >−</text>
<text x="123.7" y="612.2" text-anchor="middle" font-size="10.8" font-weight="normal" >−</text>
<text x="156.7" y="612.2" text-anchor="middle" font-size="10.8" font-weight="normal" >+</text>
<text x="184.5" y="599.3" text-anchor="start" font-size="10.8" font-weight="normal" >EpCAM×CD3</text>
<text x="183.8" y="613.1" text-anchor="start" font-size="10.8" font-weight="normal" >XmAb808</text>
<line x1="82.3" y1="629.2" x2="104.9" y2="629.2" stroke="#231f20" stroke-width="1.1"/>
<path d="M90.6,626.2L96.6,632.2M96.6,626.2L90.6,632.2" stroke="#231f20" stroke-width="1.1" fill="none"/>
<line x1="111.9" y1="629.2" x2="134.1" y2="629.2" stroke="#231f20" stroke-width="1.1"/>
<circle cx="123" cy="629.2" r="3.0" fill="#fff" stroke="#231f20" stroke-width="1.1"/>
<line x1="145.7" y1="629.2" x2="168.4" y2="629.2" stroke="#231f20" stroke-width="1.1"/>
<circle cx="157" cy="629.2" r="3.55" fill="#231f20"/>
<line x1="111.9" y1="643.6" x2="134.1" y2="643.6" stroke="#231f20" stroke-width="1.1"/>
<polygon points="123,640.33 126.4,646.45 119.6,646.45" fill="#fff" stroke="#231f20" stroke-width="1.05" stroke-linejoin="miter"/>
<line x1="145.7" y1="643.6" x2="168.4" y2="643.6" stroke="#231f20" stroke-width="1.1"/>
<polygon points="157,640.22 160.5,646.52 153.5,646.52" fill="#231f20" stroke="#231f20" stroke-width="0.3" stroke-linejoin="round"/>
<line x1="111.9" y1="659.4" x2="134.1" y2="659.4" stroke="#231f20" stroke-width="1.1"/>
<rect x="120.3" y="656.7" width="5.4" height="5.4" fill="#fff" stroke="#231f20" stroke-width="1.1"/>
<line x1="145.7" y1="659.4" x2="168.4" y2="659.4" stroke="#231f20" stroke-width="1.1"/>
<rect x="154" y="656.4" width="6.0" height="6.0" fill="#231f20"/>
<text x="181.6" y="632.6" text-anchor="start" font-size="10.8" font-weight="normal" >Isotype control</text>
<text x="181.6" y="647.6" text-anchor="start" font-size="10.8" font-weight="normal" >Anti-IL2</text>
<text x="181.6" y="662.6" text-anchor="start" font-size="10.8" font-weight="normal" >Anti-IFNγ</text>
<line x1="103.05" y1="700" x2="103.05" y2="725" stroke="#231f20" stroke-width="1.2"/>
<polygon points="98.8,724.2 107.2,724.2 103,734.4" fill="#231f20"/>
<polyline points="56.8,751.5 68.43,752.29 80.06,752.3 93.55,752.3 105.19,749.65 116.82,748.22 128.45,746.42 140.08,744.82 151.71,743.32 163.34,742.02 174.97,741.5 186.6,740.31 198.24,739.31 209.87,738.51 221.5,737.81 233.13,737.31 244.76,737 256.39,737 268.02,737 279.65,737 291.29,737.2 302.92,738.29 314.55,739.99 326.18,742.47 337.81,744.48 349.44,745.99 361.07,747.29 372.7,747.99 384.34,748.5 395.97,749.5 407.6,750.49 419.23,751" fill="none" stroke="#231f20" stroke-width="1.1"/>
<line x1="256.39" y1="733.5" x2="256.39" y2="740.5" stroke="#231f20" stroke-width="1.0"/>
<line x1="253.79" y1="733.5" x2="258.99" y2="733.5" stroke="#231f20" stroke-width="1.0"/>
<line x1="253.79" y1="740.5" x2="258.99" y2="740.5" stroke="#231f20" stroke-width="1.0"/>
<line x1="268.02" y1="733.5" x2="268.02" y2="740.5" stroke="#231f20" stroke-width="1.0"/>
<line x1="265.42" y1="733.5" x2="270.62" y2="733.5" stroke="#231f20" stroke-width="1.0"/>
<line x1="265.42" y1="740.5" x2="270.62" y2="740.5" stroke="#231f20" stroke-width="1.0"/>
<line x1="279.65" y1="733.5" x2="279.65" y2="740.5" stroke="#231f20" stroke-width="1.0"/>
<line x1="277.05" y1="733.5" x2="282.25" y2="733.5" stroke="#231f20" stroke-width="1.0"/>
<line x1="277.05" y1="740.5" x2="282.25" y2="740.5" stroke="#231f20" stroke-width="1.0"/>
<line x1="291.29" y1="733.7" x2="291.29" y2="740.7" stroke="#231f20" stroke-width="1.0"/>
<line x1="288.69" y1="733.7" x2="293.89" y2="733.7" stroke="#231f20" stroke-width="1.0"/>
<line x1="288.69" y1="740.7" x2="293.89" y2="740.7" stroke="#231f20" stroke-width="1.0"/>
<line x1="302.92" y1="734.79" x2="302.92" y2="741.79" stroke="#231f20" stroke-width="1.0"/>
<line x1="300.32" y1="734.79" x2="305.52" y2="734.79" stroke="#231f20" stroke-width="1.0"/>
<line x1="300.32" y1="741.79" x2="305.52" y2="741.79" stroke="#231f20" stroke-width="1.0"/>
<line x1="314.55" y1="736.49" x2="314.55" y2="743.49" stroke="#231f20" stroke-width="1.0"/>
<line x1="311.95" y1="736.49" x2="317.15" y2="736.49" stroke="#231f20" stroke-width="1.0"/>
<line x1="311.95" y1="743.49" x2="317.15" y2="743.49" stroke="#231f20" stroke-width="1.0"/>
<line x1="326.18" y1="738.97" x2="326.18" y2="745.97" stroke="#231f20" stroke-width="1.0"/>
<line x1="323.58" y1="738.97" x2="328.78" y2="738.97" stroke="#231f20" stroke-width="1.0"/>
<line x1="323.58" y1="745.97" x2="328.78" y2="745.97" stroke="#231f20" stroke-width="1.0"/>
<line x1="337.81" y1="740.98" x2="337.81" y2="747.98" stroke="#231f20" stroke-width="1.0"/>
<line x1="335.21" y1="740.98" x2="340.41" y2="740.98" stroke="#231f20" stroke-width="1.0"/>
<line x1="335.21" y1="747.98" x2="340.41" y2="747.98" stroke="#231f20" stroke-width="1.0"/>
<line x1="349.44" y1="742.49" x2="349.44" y2="749.49" stroke="#231f20" stroke-width="1.0"/>
<line x1="346.84" y1="742.49" x2="352.04" y2="742.49" stroke="#231f20" stroke-width="1.0"/>
<line x1="346.84" y1="749.49" x2="352.04" y2="749.49" stroke="#231f20" stroke-width="1.0"/>
<line x1="361.07" y1="743.79" x2="361.07" y2="750.79" stroke="#231f20" stroke-width="1.0"/>
<line x1="358.47" y1="743.79" x2="363.67" y2="743.79" stroke="#231f20" stroke-width="1.0"/>
<line x1="358.47" y1="750.79" x2="363.67" y2="750.79" stroke="#231f20" stroke-width="1.0"/>
<line x1="372.7" y1="744.49" x2="372.7" y2="751.49" stroke="#231f20" stroke-width="1.0"/>
<line x1="370.1" y1="744.49" x2="375.3" y2="744.49" stroke="#231f20" stroke-width="1.0"/>
<line x1="370.1" y1="751.49" x2="375.3" y2="751.49" stroke="#231f20" stroke-width="1.0"/>
<line x1="384.34" y1="745" x2="384.34" y2="752" stroke="#231f20" stroke-width="1.0"/>
<line x1="381.74" y1="745" x2="386.94" y2="745" stroke="#231f20" stroke-width="1.0"/>
<line x1="381.74" y1="752" x2="386.94" y2="752" stroke="#231f20" stroke-width="1.0"/>
<line x1="395.97" y1="746" x2="395.97" y2="753" stroke="#231f20" stroke-width="1.0"/>
<line x1="393.37" y1="746" x2="398.57" y2="746" stroke="#231f20" stroke-width="1.0"/>
<line x1="393.37" y1="753" x2="398.57" y2="753" stroke="#231f20" stroke-width="1.0"/>
<line x1="407.6" y1="746.99" x2="407.6" y2="753.99" stroke="#231f20" stroke-width="1.0"/>
<line x1="405" y1="746.99" x2="410.2" y2="746.99" stroke="#231f20" stroke-width="1.0"/>
<line x1="405" y1="753.99" x2="410.2" y2="753.99" stroke="#231f20" stroke-width="1.0"/>
<line x1="419.23" y1="747.5" x2="419.23" y2="754.5" stroke="#231f20" stroke-width="1.0"/>
<line x1="416.63" y1="747.5" x2="421.83" y2="747.5" stroke="#231f20" stroke-width="1.0"/>
<line x1="416.63" y1="754.5" x2="421.83" y2="754.5" stroke="#231f20" stroke-width="1.0"/>
<rect x="53.6" y="748.3" width="6.4" height="6.4" fill="#231f20"/>
<rect x="65.23" y="749.09" width="6.4" height="6.4" fill="#231f20"/>
<rect x="76.86" y="749.1" width="6.4" height="6.4" fill="#231f20"/>
<rect x="90.35" y="749.1" width="6.4" height="6.4" fill="#231f20"/>
<rect x="101.99" y="746.45" width="6.4" height="6.4" fill="#231f20"/>
<rect x="113.62" y="745.02" width="6.4" height="6.4" fill="#231f20"/>
<rect x="125.25" y="743.22" width="6.4" height="6.4" fill="#231f20"/>
<rect x="136.88" y="741.62" width="6.4" height="6.4" fill="#231f20"/>
<rect x="148.51" y="740.12" width="6.4" height="6.4" fill="#231f20"/>
<rect x="160.14" y="738.82" width="6.4" height="6.4" fill="#231f20"/>
<rect x="171.77" y="738.3" width="6.4" height="6.4" fill="#231f20"/>
<rect x="183.4" y="737.11" width="6.4" height="6.4" fill="#231f20"/>
<rect x="195.04" y="736.11" width="6.4" height="6.4" fill="#231f20"/>
<rect x="206.67" y="735.31" width="6.4" height="6.4" fill="#231f20"/>
<rect x="218.3" y="734.61" width="6.4" height="6.4" fill="#231f20"/>
<rect x="229.93" y="734.11" width="6.4" height="6.4" fill="#231f20"/>
<rect x="241.56" y="733.8" width="6.4" height="6.4" fill="#231f20"/>
<rect x="253.19" y="733.8" width="6.4" height="6.4" fill="#231f20"/>
<rect x="264.82" y="733.8" width="6.4" height="6.4" fill="#231f20"/>
<rect x="276.45" y="733.8" width="6.4" height="6.4" fill="#231f20"/>
<rect x="288.09" y="734" width="6.4" height="6.4" fill="#231f20"/>
<rect x="299.72" y="735.09" width="6.4" height="6.4" fill="#231f20"/>
<rect x="311.35" y="736.79" width="6.4" height="6.4" fill="#231f20"/>
<rect x="322.98" y="739.27" width="6.4" height="6.4" fill="#231f20"/>
<rect x="334.61" y="741.28" width="6.4" height="6.4" fill="#231f20"/>
<rect x="346.24" y="742.79" width="6.4" height="6.4" fill="#231f20"/>
<rect x="357.87" y="744.09" width="6.4" height="6.4" fill="#231f20"/>
<rect x="369.5" y="744.79" width="6.4" height="6.4" fill="#231f20"/>
<rect x="381.14" y="745.3" width="6.4" height="6.4" fill="#231f20"/>
<rect x="392.77" y="746.3" width="6.4" height="6.4" fill="#231f20"/>
<rect x="404.4" y="747.29" width="6.4" height="6.4" fill="#231f20"/>
<rect x="416.03" y="747.8" width="6.4" height="6.4" fill="#231f20"/>
<polyline points="56.8,751.5 68.43,752.29 80.06,752.3 93.55,752.3 105.19,749.65 116.82,748.22 128.45,746.42 140.08,744.82 151.71,743.32 163.34,742.02 174.97,741 186.6,739.51 198.24,737.53 209.87,736.02 221.5,734.51 233.13,733.32 244.76,732.81 256.39,732.6 268.02,732.5 279.65,732.5 291.29,732.5 302.92,733.99 314.55,735.99 326.18,738.97 337.81,741.48 349.44,743.49 361.07,745.48 372.7,746.79 384.34,747.7 395.97,749.2 407.6,750.19 419.23,750.8" fill="none" stroke="#231f20" stroke-width="1.1"/>
<line x1="256.39" y1="729.1" x2="256.39" y2="736.1" stroke="#231f20" stroke-width="1.0"/>
<line x1="253.79" y1="729.1" x2="258.99" y2="729.1" stroke="#231f20" stroke-width="1.0"/>
<line x1="253.79" y1="736.1" x2="258.99" y2="736.1" stroke="#231f20" stroke-width="1.0"/>
<line x1="268.02" y1="729" x2="268.02" y2="736" stroke="#231f20" stroke-width="1.0"/>
<line x1="265.42" y1="729" x2="270.62" y2="729" stroke="#231f20" stroke-width="1.0"/>
<line x1="265.42" y1="736" x2="270.62" y2="736" stroke="#231f20" stroke-width="1.0"/>
<line x1="279.65" y1="729" x2="279.65" y2="736" stroke="#231f20" stroke-width="1.0"/>
<line x1="277.05" y1="729" x2="282.25" y2="729" stroke="#231f20" stroke-width="1.0"/>
<line x1="277.05" y1="736" x2="282.25" y2="736" stroke="#231f20" stroke-width="1.0"/>
<line x1="291.29" y1="729" x2="291.29" y2="736" stroke="#231f20" stroke-width="1.0"/>
<line x1="288.69" y1="729" x2="293.89" y2="729" stroke="#231f20" stroke-width="1.0"/>
<line x1="288.69" y1="736" x2="293.89" y2="736" stroke="#231f20" stroke-width="1.0"/>
<line x1="302.92" y1="730.49" x2="302.92" y2="737.49" stroke="#231f20" stroke-width="1.0"/>
<line x1="300.32" y1="730.49" x2="305.52" y2="730.49" stroke="#231f20" stroke-width="1.0"/>
<line x1="300.32" y1="737.49" x2="305.52" y2="737.49" stroke="#231f20" stroke-width="1.0"/>
<line x1="314.55" y1="732.49" x2="314.55" y2="739.49" stroke="#231f20" stroke-width="1.0"/>
<line x1="311.95" y1="732.49" x2="317.15" y2="732.49" stroke="#231f20" stroke-width="1.0"/>
<line x1="311.95" y1="739.49" x2="317.15" y2="739.49" stroke="#231f20" stroke-width="1.0"/>
<line x1="326.18" y1="735.47" x2="326.18" y2="742.47" stroke="#231f20" stroke-width="1.0"/>
<line x1="323.58" y1="735.47" x2="328.78" y2="735.47" stroke="#231f20" stroke-width="1.0"/>
<line x1="323.58" y1="742.47" x2="328.78" y2="742.47" stroke="#231f20" stroke-width="1.0"/>
<line x1="337.81" y1="737.98" x2="337.81" y2="744.98" stroke="#231f20" stroke-width="1.0"/>
<line x1="335.21" y1="737.98" x2="340.41" y2="737.98" stroke="#231f20" stroke-width="1.0"/>
<line x1="335.21" y1="744.98" x2="340.41" y2="744.98" stroke="#231f20" stroke-width="1.0"/>
<line x1="349.44" y1="739.99" x2="349.44" y2="746.99" stroke="#231f20" stroke-width="1.0"/>
<line x1="346.84" y1="739.99" x2="352.04" y2="739.99" stroke="#231f20" stroke-width="1.0"/>
<line x1="346.84" y1="746.99" x2="352.04" y2="746.99" stroke="#231f20" stroke-width="1.0"/>
<line x1="361.07" y1="741.98" x2="361.07" y2="748.98" stroke="#231f20" stroke-width="1.0"/>
<line x1="358.47" y1="741.98" x2="363.67" y2="741.98" stroke="#231f20" stroke-width="1.0"/>
<line x1="358.47" y1="748.98" x2="363.67" y2="748.98" stroke="#231f20" stroke-width="1.0"/>
<line x1="372.7" y1="743.29" x2="372.7" y2="750.29" stroke="#231f20" stroke-width="1.0"/>
<line x1="370.1" y1="743.29" x2="375.3" y2="743.29" stroke="#231f20" stroke-width="1.0"/>
<line x1="370.1" y1="750.29" x2="375.3" y2="750.29" stroke="#231f20" stroke-width="1.0"/>
<line x1="384.34" y1="744.2" x2="384.34" y2="751.2" stroke="#231f20" stroke-width="1.0"/>
<line x1="381.74" y1="744.2" x2="386.94" y2="744.2" stroke="#231f20" stroke-width="1.0"/>
<line x1="381.74" y1="751.2" x2="386.94" y2="751.2" stroke="#231f20" stroke-width="1.0"/>
<line x1="395.97" y1="745.7" x2="395.97" y2="752.7" stroke="#231f20" stroke-width="1.0"/>
<line x1="393.37" y1="745.7" x2="398.57" y2="745.7" stroke="#231f20" stroke-width="1.0"/>
<line x1="393.37" y1="752.7" x2="398.57" y2="752.7" stroke="#231f20" stroke-width="1.0"/>
<line x1="407.6" y1="746.69" x2="407.6" y2="753.69" stroke="#231f20" stroke-width="1.0"/>
<line x1="405" y1="746.69" x2="410.2" y2="746.69" stroke="#231f20" stroke-width="1.0"/>
<line x1="405" y1="753.69" x2="410.2" y2="753.69" stroke="#231f20" stroke-width="1.0"/>
<line x1="419.23" y1="747.3" x2="419.23" y2="754.3" stroke="#231f20" stroke-width="1.0"/>
<line x1="416.63" y1="747.3" x2="421.83" y2="747.3" stroke="#231f20" stroke-width="1.0"/>
<line x1="416.63" y1="754.3" x2="421.83" y2="754.3" stroke="#231f20" stroke-width="1.0"/>
<circle cx="56.8" cy="751.5" r="3.45" fill="#231f20"/>
<circle cx="68.43" cy="752.29" r="3.45" fill="#231f20"/>
<circle cx="80.06" cy="752.3" r="3.45" fill="#231f20"/>
<circle cx="93.55" cy="752.3" r="3.45" fill="#231f20"/>
<circle cx="105.19" cy="749.65" r="3.45" fill="#231f20"/>
<circle cx="116.82" cy="748.22" r="3.45" fill="#231f20"/>
<circle cx="128.45" cy="746.42" r="3.45" fill="#231f20"/>
<circle cx="140.08" cy="744.82" r="3.45" fill="#231f20"/>
<circle cx="151.71" cy="743.32" r="3.45" fill="#231f20"/>
<circle cx="163.34" cy="742.02" r="3.45" fill="#231f20"/>
<circle cx="174.97" cy="741" r="3.45" fill="#231f20"/>
<circle cx="186.6" cy="739.51" r="3.45" fill="#231f20"/>
<circle cx="198.24" cy="737.53" r="3.45" fill="#231f20"/>
<circle cx="209.87" cy="736.02" r="3.45" fill="#231f20"/>
<circle cx="221.5" cy="734.51" r="3.45" fill="#231f20"/>
<circle cx="233.13" cy="733.32" r="3.45" fill="#231f20"/>
<circle cx="244.76" cy="732.81" r="3.45" fill="#231f20"/>
<circle cx="256.39" cy="732.6" r="3.45" fill="#231f20"/>
<circle cx="268.02" cy="732.5" r="3.45" fill="#231f20"/>
<circle cx="279.65" cy="732.5" r="3.45" fill="#231f20"/>
<circle cx="291.29" cy="732.5" r="3.45" fill="#231f20"/>
<circle cx="302.92" cy="733.99" r="3.45" fill="#231f20"/>
<circle cx="314.55" cy="735.99" r="3.45" fill="#231f20"/>
<circle cx="326.18" cy="738.97" r="3.45" fill="#231f20"/>
<circle cx="337.81" cy="741.48" r="3.45" fill="#231f20"/>
<circle cx="349.44" cy="743.49" r="3.45" fill="#231f20"/>
<circle cx="361.07" cy="745.48" r="3.45" fill="#231f20"/>
<circle cx="372.7" cy="746.79" r="3.45" fill="#231f20"/>
<circle cx="384.34" cy="747.7" r="3.45" fill="#231f20"/>
<circle cx="395.97" cy="749.2" r="3.45" fill="#231f20"/>
<circle cx="407.6" cy="750.19" r="3.45" fill="#231f20"/>
<circle cx="419.23" cy="750.8" r="3.45" fill="#231f20"/>
<polyline points="56.8,751.5 68.43,752.29 80.06,752.3 93.55,752.3 105.19,749.65 116.82,748.22 128.45,746.42 140.08,744.82 151.71,743.32 163.34,742.02 174.97,741 186.6,739.31 198.24,737.23 209.87,734.93 221.5,732.32 233.13,729.54 244.76,727.03 256.39,724.23 268.02,721.02 279.65,718.33 291.29,716.52 302.92,715.41 314.55,713.51 326.18,712.31 337.81,709.22 349.44,707.71 361.07,706.22 372.7,704.02 384.34,700.92 395.97,699.11 407.6,697.81 419.23,694.82" fill="none" stroke="#231f20" stroke-width="1.1"/>
<line x1="302.92" y1="711.31" x2="302.92" y2="719.51" stroke="#231f20" stroke-width="1.0"/>
<line x1="300.32" y1="711.31" x2="305.52" y2="711.31" stroke="#231f20" stroke-width="1.0"/>
<line x1="300.32" y1="719.51" x2="305.52" y2="719.51" stroke="#231f20" stroke-width="1.0"/>
<line x1="314.55" y1="709.02" x2="314.55" y2="717.99" stroke="#231f20" stroke-width="1.0"/>
<line x1="311.95" y1="709.02" x2="317.15" y2="709.02" stroke="#231f20" stroke-width="1.0"/>
<line x1="311.95" y1="717.99" x2="317.15" y2="717.99" stroke="#231f20" stroke-width="1.0"/>
<line x1="326.18" y1="707.44" x2="326.18" y2="717.18" stroke="#231f20" stroke-width="1.0"/>
<line x1="323.58" y1="707.44" x2="328.78" y2="707.44" stroke="#231f20" stroke-width="1.0"/>
<line x1="323.58" y1="717.18" x2="328.78" y2="717.18" stroke="#231f20" stroke-width="1.0"/>
<line x1="337.81" y1="703.96" x2="337.81" y2="714.48" stroke="#231f20" stroke-width="1.0"/>
<line x1="335.21" y1="703.96" x2="340.41" y2="703.96" stroke="#231f20" stroke-width="1.0"/>
<line x1="335.21" y1="714.48" x2="340.41" y2="714.48" stroke="#231f20" stroke-width="1.0"/>
<line x1="349.44" y1="702.06" x2="349.44" y2="713.36" stroke="#231f20" stroke-width="1.0"/>
<line x1="346.84" y1="702.06" x2="352.04" y2="702.06" stroke="#231f20" stroke-width="1.0"/>
<line x1="346.84" y1="713.36" x2="352.04" y2="713.36" stroke="#231f20" stroke-width="1.0"/>
<line x1="361.07" y1="700.18" x2="361.07" y2="712.25" stroke="#231f20" stroke-width="1.0"/>
<line x1="358.47" y1="700.18" x2="363.67" y2="700.18" stroke="#231f20" stroke-width="1.0"/>
<line x1="358.47" y1="712.25" x2="363.67" y2="712.25" stroke="#231f20" stroke-width="1.0"/>
<line x1="372.7" y1="697.59" x2="372.7" y2="710.44" stroke="#231f20" stroke-width="1.0"/>
<line x1="370.1" y1="697.59" x2="375.3" y2="697.59" stroke="#231f20" stroke-width="1.0"/>
<line x1="370.1" y1="710.44" x2="375.3" y2="710.44" stroke="#231f20" stroke-width="1.0"/>
<line x1="384.34" y1="694.11" x2="384.34" y2="707.73" stroke="#231f20" stroke-width="1.0"/>
<line x1="381.74" y1="694.11" x2="386.94" y2="694.11" stroke="#231f20" stroke-width="1.0"/>
<line x1="381.74" y1="707.73" x2="386.94" y2="707.73" stroke="#231f20" stroke-width="1.0"/>
<line x1="395.97" y1="691.91" x2="395.97" y2="706.3" stroke="#231f20" stroke-width="1.0"/>
<line x1="393.37" y1="691.91" x2="398.57" y2="691.91" stroke="#231f20" stroke-width="1.0"/>
<line x1="393.37" y1="706.3" x2="398.57" y2="706.3" stroke="#231f20" stroke-width="1.0"/>
<line x1="407.6" y1="690.22" x2="407.6" y2="705.4" stroke="#231f20" stroke-width="1.0"/>
<line x1="405" y1="690.22" x2="410.2" y2="690.22" stroke="#231f20" stroke-width="1.0"/>
<line x1="405" y1="705.4" x2="410.2" y2="705.4" stroke="#231f20" stroke-width="1.0"/>
<line x1="419.23" y1="686.84" x2="419.23" y2="702.79" stroke="#231f20" stroke-width="1.0"/>
<line x1="416.63" y1="686.84" x2="421.83" y2="686.84" stroke="#231f20" stroke-width="1.0"/>
<line x1="416.63" y1="702.79" x2="421.83" y2="702.79" stroke="#231f20" stroke-width="1.0"/>
<polygon points="56.8,747.83 60.2,753.95 53.4,753.95" fill="#231f20" stroke="#231f20" stroke-width="0.3" stroke-linejoin="round"/>
<polygon points="68.43,748.62 71.83,754.74 65.03,754.74" fill="#231f20" stroke="#231f20" stroke-width="0.3" stroke-linejoin="round"/>
<polygon points="80.06,748.63 83.46,754.75 76.66,754.75" fill="#231f20" stroke="#231f20" stroke-width="0.3" stroke-linejoin="round"/>
<polygon points="93.55,748.63 96.95,754.75 90.15,754.75" fill="#231f20" stroke="#231f20" stroke-width="0.3" stroke-linejoin="round"/>
<polygon points="105.19,745.98 108.59,752.1 101.79,752.1" fill="#231f20" stroke="#231f20" stroke-width="0.3" stroke-linejoin="round"/>
<polygon points="116.82,744.55 120.22,750.67 113.42,750.67" fill="#231f20" stroke="#231f20" stroke-width="0.3" stroke-linejoin="round"/>
<polygon points="128.45,742.75 131.85,748.87 125.05,748.87" fill="#231f20" stroke="#231f20" stroke-width="0.3" stroke-linejoin="round"/>
<polygon points="140.08,741.14 143.48,747.26 136.68,747.26" fill="#231f20" stroke="#231f20" stroke-width="0.3" stroke-linejoin="round"/>
<polygon points="151.71,739.65 155.11,745.77 148.31,745.77" fill="#231f20" stroke="#231f20" stroke-width="0.3" stroke-linejoin="round"/>
<polygon points="163.34,738.35 166.74,744.47 159.94,744.47" fill="#231f20" stroke="#231f20" stroke-width="0.3" stroke-linejoin="round"/>
<polygon points="174.97,737.33 178.37,743.45 171.57,743.45" fill="#231f20" stroke="#231f20" stroke-width="0.3" stroke-linejoin="round"/>
<polygon points="186.6,735.64 190,741.76 183.2,741.76" fill="#231f20" stroke="#231f20" stroke-width="0.3" stroke-linejoin="round"/>
<polygon points="198.24,733.56 201.64,739.68 194.84,739.68" fill="#231f20" stroke="#231f20" stroke-width="0.3" stroke-linejoin="round"/>
<polygon points="209.87,731.25 213.27,737.37 206.47,737.37" fill="#231f20" stroke="#231f20" stroke-width="0.3" stroke-linejoin="round"/>
<polygon points="221.5,728.65 224.9,734.77 218.1,734.77" fill="#231f20" stroke="#231f20" stroke-width="0.3" stroke-linejoin="round"/>
<polygon points="233.13,725.87 236.53,731.99 229.73,731.99" fill="#231f20" stroke="#231f20" stroke-width="0.3" stroke-linejoin="round"/>
<polygon points="244.76,723.36 248.16,729.48 241.36,729.48" fill="#231f20" stroke="#231f20" stroke-width="0.3" stroke-linejoin="round"/>
<polygon points="256.39,720.55 259.79,726.67 252.99,726.67" fill="#231f20" stroke="#231f20" stroke-width="0.3" stroke-linejoin="round"/>
<polygon points="268.02,717.35 271.42,723.47 264.62,723.47" fill="#231f20" stroke="#231f20" stroke-width="0.3" stroke-linejoin="round"/>
<polygon points="279.65,714.66 283.05,720.78 276.25,720.78" fill="#231f20" stroke="#231f20" stroke-width="0.3" stroke-linejoin="round"/>
<polygon points="291.29,712.85 294.69,718.97 287.89,718.97" fill="#231f20" stroke="#231f20" stroke-width="0.3" stroke-linejoin="round"/>
<polygon points="302.92,711.74 306.32,717.86 299.52,717.86" fill="#231f20" stroke="#231f20" stroke-width="0.3" stroke-linejoin="round"/>
<polygon points="314.55,709.84 317.95,715.96 311.15,715.96" fill="#231f20" stroke="#231f20" stroke-width="0.3" stroke-linejoin="round"/>
<polygon points="326.18,708.64 329.58,714.76 322.78,714.76" fill="#231f20" stroke="#231f20" stroke-width="0.3" stroke-linejoin="round"/>
<polygon points="337.81,705.55 341.21,711.67 334.41,711.67" fill="#231f20" stroke="#231f20" stroke-width="0.3" stroke-linejoin="round"/>
<polygon points="349.44,704.04 352.84,710.16 346.04,710.16" fill="#231f20" stroke="#231f20" stroke-width="0.3" stroke-linejoin="round"/>
<polygon points="361.07,702.54 364.47,708.66 357.67,708.66" fill="#231f20" stroke="#231f20" stroke-width="0.3" stroke-linejoin="round"/>
<polygon points="372.7,700.35 376.1,706.47 369.3,706.47" fill="#231f20" stroke="#231f20" stroke-width="0.3" stroke-linejoin="round"/>
<polygon points="384.34,697.25 387.74,703.37 380.94,703.37" fill="#231f20" stroke="#231f20" stroke-width="0.3" stroke-linejoin="round"/>
<polygon points="395.97,695.43 399.37,701.55 392.57,701.55" fill="#231f20" stroke="#231f20" stroke-width="0.3" stroke-linejoin="round"/>
<polygon points="407.6,694.14 411,700.26 404.2,700.26" fill="#231f20" stroke="#231f20" stroke-width="0.3" stroke-linejoin="round"/>
<polygon points="419.23,691.15 422.63,697.27 415.83,697.27" fill="#231f20" stroke="#231f20" stroke-width="0.3" stroke-linejoin="round"/>
<polyline points="56.8,751.5 68.43,752.29 80.06,752.3 93.55,752.3 105.19,749.65 116.82,748.22 128.45,746.42 140.08,744.82 151.71,743.32 163.34,741.03 174.97,738.01 186.6,734.23 198.24,729.86 209.87,725.94 221.5,721.64 233.13,717.17 244.76,710.68 256.39,703.96 268.02,696.25 279.65,688.1 291.29,678.59 302.92,669.27 314.55,660.04 326.18,651.29 337.81,642.27 349.44,632.55 361.07,623.89 372.7,615.17 384.34,606.25 395.97,602.01 407.6,595.85 419.23,592.32" fill="none" stroke="#231f20" stroke-width="1.1"/>
<line x1="233.13" y1="714.34" x2="233.13" y2="719.99" stroke="#231f20" stroke-width="1.0"/>
<line x1="230.53" y1="714.34" x2="235.73" y2="714.34" stroke="#231f20" stroke-width="1.0"/>
<line x1="230.53" y1="719.99" x2="235.73" y2="719.99" stroke="#231f20" stroke-width="1.0"/>
<line x1="244.76" y1="707.39" x2="244.76" y2="713.97" stroke="#231f20" stroke-width="1.0"/>
<line x1="242.16" y1="707.39" x2="247.36" y2="707.39" stroke="#231f20" stroke-width="1.0"/>
<line x1="242.16" y1="713.97" x2="247.36" y2="713.97" stroke="#231f20" stroke-width="1.0"/>
<line x1="256.39" y1="700.21" x2="256.39" y2="707.72" stroke="#231f20" stroke-width="1.0"/>
<line x1="253.79" y1="700.21" x2="258.99" y2="700.21" stroke="#231f20" stroke-width="1.0"/>
<line x1="253.79" y1="707.72" x2="258.99" y2="707.72" stroke="#231f20" stroke-width="1.0"/>
<line x1="268.02" y1="692.03" x2="268.02" y2="700.47" stroke="#231f20" stroke-width="1.0"/>
<line x1="265.42" y1="692.03" x2="270.62" y2="692.03" stroke="#231f20" stroke-width="1.0"/>
<line x1="265.42" y1="700.47" x2="270.62" y2="700.47" stroke="#231f20" stroke-width="1.0"/>
<line x1="279.65" y1="683.42" x2="279.65" y2="692.79" stroke="#231f20" stroke-width="1.0"/>
<line x1="277.05" y1="683.42" x2="282.25" y2="683.42" stroke="#231f20" stroke-width="1.0"/>
<line x1="277.05" y1="692.79" x2="282.25" y2="692.79" stroke="#231f20" stroke-width="1.0"/>
<line x1="291.29" y1="673.44" x2="291.29" y2="683.74" stroke="#231f20" stroke-width="1.0"/>
<line x1="288.69" y1="673.44" x2="293.89" y2="673.44" stroke="#231f20" stroke-width="1.0"/>
<line x1="288.69" y1="683.74" x2="293.89" y2="683.74" stroke="#231f20" stroke-width="1.0"/>
<line x1="302.92" y1="663.77" x2="302.92" y2="674.77" stroke="#231f20" stroke-width="1.0"/>
<line x1="300.32" y1="663.77" x2="305.52" y2="663.77" stroke="#231f20" stroke-width="1.0"/>
<line x1="300.32" y1="674.77" x2="305.52" y2="674.77" stroke="#231f20" stroke-width="1.0"/>
<line x1="314.55" y1="654.54" x2="314.55" y2="665.54" stroke="#231f20" stroke-width="1.0"/>
<line x1="311.95" y1="654.54" x2="317.15" y2="654.54" stroke="#231f20" stroke-width="1.0"/>
<line x1="311.95" y1="665.54" x2="317.15" y2="665.54" stroke="#231f20" stroke-width="1.0"/>
<line x1="326.18" y1="645.79" x2="326.18" y2="656.79" stroke="#231f20" stroke-width="1.0"/>
<line x1="323.58" y1="645.79" x2="328.78" y2="645.79" stroke="#231f20" stroke-width="1.0"/>
<line x1="323.58" y1="656.79" x2="328.78" y2="656.79" stroke="#231f20" stroke-width="1.0"/>
<line x1="337.81" y1="636.77" x2="337.81" y2="647.77" stroke="#231f20" stroke-width="1.0"/>
<line x1="335.21" y1="636.77" x2="340.41" y2="636.77" stroke="#231f20" stroke-width="1.0"/>
<line x1="335.21" y1="647.77" x2="340.41" y2="647.77" stroke="#231f20" stroke-width="1.0"/>
<line x1="349.44" y1="627.05" x2="349.44" y2="638.05" stroke="#231f20" stroke-width="1.0"/>
<line x1="346.84" y1="627.05" x2="352.04" y2="627.05" stroke="#231f20" stroke-width="1.0"/>
<line x1="346.84" y1="638.05" x2="352.04" y2="638.05" stroke="#231f20" stroke-width="1.0"/>
<line x1="361.07" y1="618.39" x2="361.07" y2="629.39" stroke="#231f20" stroke-width="1.0"/>
<line x1="358.47" y1="618.39" x2="363.67" y2="618.39" stroke="#231f20" stroke-width="1.0"/>
<line x1="358.47" y1="629.39" x2="363.67" y2="629.39" stroke="#231f20" stroke-width="1.0"/>
<line x1="372.7" y1="609.67" x2="372.7" y2="620.67" stroke="#231f20" stroke-width="1.0"/>
<line x1="370.1" y1="609.67" x2="375.3" y2="609.67" stroke="#231f20" stroke-width="1.0"/>
<line x1="370.1" y1="620.67" x2="375.3" y2="620.67" stroke="#231f20" stroke-width="1.0"/>
<line x1="384.34" y1="600.75" x2="384.34" y2="611.75" stroke="#231f20" stroke-width="1.0"/>
<line x1="381.74" y1="600.75" x2="386.94" y2="600.75" stroke="#231f20" stroke-width="1.0"/>
<line x1="381.74" y1="611.75" x2="386.94" y2="611.75" stroke="#231f20" stroke-width="1.0"/>
<line x1="395.97" y1="596.51" x2="395.97" y2="607.51" stroke="#231f20" stroke-width="1.0"/>
<line x1="393.37" y1="596.51" x2="398.57" y2="596.51" stroke="#231f20" stroke-width="1.0"/>
<line x1="393.37" y1="607.51" x2="398.57" y2="607.51" stroke="#231f20" stroke-width="1.0"/>
<line x1="407.6" y1="590.35" x2="407.6" y2="601.35" stroke="#231f20" stroke-width="1.0"/>
<line x1="405" y1="590.35" x2="410.2" y2="590.35" stroke="#231f20" stroke-width="1.0"/>
<line x1="405" y1="601.35" x2="410.2" y2="601.35" stroke="#231f20" stroke-width="1.0"/>
<line x1="419.23" y1="586.82" x2="419.23" y2="597.82" stroke="#231f20" stroke-width="1.0"/>
<line x1="416.63" y1="586.82" x2="421.83" y2="586.82" stroke="#231f20" stroke-width="1.0"/>
<line x1="416.63" y1="597.82" x2="421.83" y2="597.82" stroke="#231f20" stroke-width="1.0"/>
<path d="M54.1,748.8L59.5,754.2M59.5,748.8L54.1,754.2" stroke="#231f20" stroke-width="1.15" fill="none"/>
<path d="M65.73,749.59L71.13,754.99M71.13,749.59L65.73,754.99" stroke="#231f20" stroke-width="1.15" fill="none"/>
<path d="M77.36,749.6L82.76,755M82.76,749.6L77.36,755" stroke="#231f20" stroke-width="1.15" fill="none"/>
<path d="M90.85,749.6L96.25,755M96.25,749.6L90.85,755" stroke="#231f20" stroke-width="1.15" fill="none"/>
<path d="M102.49,746.95L107.89,752.35M107.89,746.95L102.49,752.35" stroke="#231f20" stroke-width="1.15" fill="none"/>
<path d="M114.12,745.52L119.52,750.92M119.52,745.52L114.12,750.92" stroke="#231f20" stroke-width="1.15" fill="none"/>
<path d="M125.75,743.72L131.15,749.12M131.15,743.72L125.75,749.12" stroke="#231f20" stroke-width="1.15" fill="none"/>
<path d="M137.38,742.12L142.78,747.52M142.78,742.12L137.38,747.52" stroke="#231f20" stroke-width="1.15" fill="none"/>
<path d="M149.01,740.62L154.41,746.02M154.41,740.62L149.01,746.02" stroke="#231f20" stroke-width="1.15" fill="none"/>
<path d="M160.64,738.33L166.04,743.73M166.04,738.33L160.64,743.73" stroke="#231f20" stroke-width="1.15" fill="none"/>
<path d="M172.27,735.31L177.67,740.71M177.67,735.31L172.27,740.71" stroke="#231f20" stroke-width="1.15" fill="none"/>
<path d="M183.9,731.53L189.3,736.93M189.3,731.53L183.9,736.93" stroke="#231f20" stroke-width="1.15" fill="none"/>
<path d="M195.54,727.16L200.94,732.56M200.94,727.16L195.54,732.56" stroke="#231f20" stroke-width="1.15" fill="none"/>
<path d="M207.17,723.24L212.57,728.64M212.57,723.24L207.17,728.64" stroke="#231f20" stroke-width="1.15" fill="none"/>
<path d="M218.8,718.94L224.2,724.34M224.2,718.94L218.8,724.34" stroke="#231f20" stroke-width="1.15" fill="none"/>
<path d="M230.43,714.47L235.83,719.87M235.83,714.47L230.43,719.87" stroke="#231f20" stroke-width="1.15" fill="none"/>
<path d="M242.06,707.98L247.46,713.38M247.46,707.98L242.06,713.38" stroke="#231f20" stroke-width="1.15" fill="none"/>
<path d="M253.69,701.26L259.09,706.66M259.09,701.26L253.69,706.66" stroke="#231f20" stroke-width="1.15" fill="none"/>
<path d="M265.32,693.55L270.72,698.95M270.72,693.55L265.32,698.95" stroke="#231f20" stroke-width="1.15" fill="none"/>
<path d="M276.95,685.4L282.35,690.8M282.35,685.4L276.95,690.8" stroke="#231f20" stroke-width="1.15" fill="none"/>
<path d="M288.59,675.89L293.99,681.29M293.99,675.89L288.59,681.29" stroke="#231f20" stroke-width="1.15" fill="none"/>
<path d="M300.22,666.57L305.62,671.97M305.62,666.57L300.22,671.97" stroke="#231f20" stroke-width="1.15" fill="none"/>
<path d="M311.85,657.34L317.25,662.74M317.25,657.34L311.85,662.74" stroke="#231f20" stroke-width="1.15" fill="none"/>
<path d="M323.48,648.59L328.88,653.99M328.88,648.59L323.48,653.99" stroke="#231f20" stroke-width="1.15" fill="none"/>
<path d="M335.11,639.57L340.51,644.97M340.51,639.57L335.11,644.97" stroke="#231f20" stroke-width="1.15" fill="none"/>
<path d="M346.74,629.85L352.14,635.25M352.14,629.85L346.74,635.25" stroke="#231f20" stroke-width="1.15" fill="none"/>
<path d="M358.37,621.19L363.77,626.59M363.77,621.19L358.37,626.59" stroke="#231f20" stroke-width="1.15" fill="none"/>
<path d="M370,612.47L375.4,617.87M375.4,612.47L370,617.87" stroke="#231f20" stroke-width="1.15" fill="none"/>
<path d="M381.64,603.55L387.04,608.95M387.04,603.55L381.64,608.95" stroke="#231f20" stroke-width="1.15" fill="none"/>
<path d="M393.27,599.31L398.67,604.71M398.67,599.31L393.27,604.71" stroke="#231f20" stroke-width="1.15" fill="none"/>
<path d="M404.9,593.15L410.3,598.55M410.3,593.15L404.9,598.55" stroke="#231f20" stroke-width="1.15" fill="none"/>
<path d="M416.53,589.62L421.93,595.02M421.93,589.62L416.53,595.02" stroke="#231f20" stroke-width="1.15" fill="none"/>
<polyline points="56.8,751.5 68.43,752.29 80.06,752.3 93.55,752.3 105.19,749.65 116.82,748.22 128.45,746.42 140.08,744.82 151.71,743.32 163.34,742.02 174.97,740 186.6,737.32 198.24,734.34 209.87,731.04 221.5,727.53 233.13,723.56 244.76,719.05 256.39,713.35 268.02,705.65 279.65,698.88 291.29,692.36 302.92,683.46 314.55,673.54 326.18,665.48 337.81,656.27 349.44,647.05 361.07,639.78 372.7,632.36 384.34,621.86 395.97,615.12 407.6,607.47 419.23,600.84" fill="none" stroke="#231f20" stroke-width="1.1"/>
<line x1="233.13" y1="720.73" x2="233.13" y2="726.38" stroke="#231f20" stroke-width="1.0"/>
<line x1="230.53" y1="720.73" x2="235.73" y2="720.73" stroke="#231f20" stroke-width="1.0"/>
<line x1="230.53" y1="726.38" x2="235.73" y2="726.38" stroke="#231f20" stroke-width="1.0"/>
<line x1="244.76" y1="715.76" x2="244.76" y2="722.34" stroke="#231f20" stroke-width="1.0"/>
<line x1="242.16" y1="715.76" x2="247.36" y2="715.76" stroke="#231f20" stroke-width="1.0"/>
<line x1="242.16" y1="722.34" x2="247.36" y2="722.34" stroke="#231f20" stroke-width="1.0"/>
<line x1="256.39" y1="709.6" x2="256.39" y2="717.11" stroke="#231f20" stroke-width="1.0"/>
<line x1="253.79" y1="709.6" x2="258.99" y2="709.6" stroke="#231f20" stroke-width="1.0"/>
<line x1="253.79" y1="717.11" x2="258.99" y2="717.11" stroke="#231f20" stroke-width="1.0"/>
<line x1="268.02" y1="701.43" x2="268.02" y2="709.87" stroke="#231f20" stroke-width="1.0"/>
<line x1="265.42" y1="701.43" x2="270.62" y2="701.43" stroke="#231f20" stroke-width="1.0"/>
<line x1="265.42" y1="709.87" x2="270.62" y2="709.87" stroke="#231f20" stroke-width="1.0"/>
<line x1="279.65" y1="694.2" x2="279.65" y2="703.57" stroke="#231f20" stroke-width="1.0"/>
<line x1="277.05" y1="694.2" x2="282.25" y2="694.2" stroke="#231f20" stroke-width="1.0"/>
<line x1="277.05" y1="703.57" x2="282.25" y2="703.57" stroke="#231f20" stroke-width="1.0"/>
<line x1="291.29" y1="687.21" x2="291.29" y2="697.52" stroke="#231f20" stroke-width="1.0"/>
<line x1="288.69" y1="687.21" x2="293.89" y2="687.21" stroke="#231f20" stroke-width="1.0"/>
<line x1="288.69" y1="697.52" x2="293.89" y2="697.52" stroke="#231f20" stroke-width="1.0"/>
<line x1="302.92" y1="677.96" x2="302.92" y2="688.96" stroke="#231f20" stroke-width="1.0"/>
<line x1="300.32" y1="677.96" x2="305.52" y2="677.96" stroke="#231f20" stroke-width="1.0"/>
<line x1="300.32" y1="688.96" x2="305.52" y2="688.96" stroke="#231f20" stroke-width="1.0"/>
<line x1="314.55" y1="668.04" x2="314.55" y2="679.04" stroke="#231f20" stroke-width="1.0"/>
<line x1="311.95" y1="668.04" x2="317.15" y2="668.04" stroke="#231f20" stroke-width="1.0"/>
<line x1="311.95" y1="679.04" x2="317.15" y2="679.04" stroke="#231f20" stroke-width="1.0"/>
<line x1="326.18" y1="659.98" x2="326.18" y2="670.98" stroke="#231f20" stroke-width="1.0"/>
<line x1="323.58" y1="659.98" x2="328.78" y2="659.98" stroke="#231f20" stroke-width="1.0"/>
<line x1="323.58" y1="670.98" x2="328.78" y2="670.98" stroke="#231f20" stroke-width="1.0"/>
<line x1="337.81" y1="650.77" x2="337.81" y2="661.77" stroke="#231f20" stroke-width="1.0"/>
<line x1="335.21" y1="650.77" x2="340.41" y2="650.77" stroke="#231f20" stroke-width="1.0"/>
<line x1="335.21" y1="661.77" x2="340.41" y2="661.77" stroke="#231f20" stroke-width="1.0"/>
<line x1="349.44" y1="641.55" x2="349.44" y2="652.55" stroke="#231f20" stroke-width="1.0"/>
<line x1="346.84" y1="641.55" x2="352.04" y2="641.55" stroke="#231f20" stroke-width="1.0"/>
<line x1="346.84" y1="652.55" x2="352.04" y2="652.55" stroke="#231f20" stroke-width="1.0"/>
<line x1="361.07" y1="634.28" x2="361.07" y2="645.28" stroke="#231f20" stroke-width="1.0"/>
<line x1="358.47" y1="634.28" x2="363.67" y2="634.28" stroke="#231f20" stroke-width="1.0"/>
<line x1="358.47" y1="645.28" x2="363.67" y2="645.28" stroke="#231f20" stroke-width="1.0"/>
<line x1="372.7" y1="626.86" x2="372.7" y2="637.86" stroke="#231f20" stroke-width="1.0"/>
<line x1="370.1" y1="626.86" x2="375.3" y2="626.86" stroke="#231f20" stroke-width="1.0"/>
<line x1="370.1" y1="637.86" x2="375.3" y2="637.86" stroke="#231f20" stroke-width="1.0"/>
<line x1="384.34" y1="616.36" x2="384.34" y2="627.36" stroke="#231f20" stroke-width="1.0"/>
<line x1="381.74" y1="616.36" x2="386.94" y2="616.36" stroke="#231f20" stroke-width="1.0"/>
<line x1="381.74" y1="627.36" x2="386.94" y2="627.36" stroke="#231f20" stroke-width="1.0"/>
<line x1="395.97" y1="609.62" x2="395.97" y2="620.62" stroke="#231f20" stroke-width="1.0"/>
<line x1="393.37" y1="609.62" x2="398.57" y2="609.62" stroke="#231f20" stroke-width="1.0"/>
<line x1="393.37" y1="620.62" x2="398.57" y2="620.62" stroke="#231f20" stroke-width="1.0"/>
<line x1="407.6" y1="601.97" x2="407.6" y2="612.97" stroke="#231f20" stroke-width="1.0"/>
<line x1="405" y1="601.97" x2="410.2" y2="601.97" stroke="#231f20" stroke-width="1.0"/>
<line x1="405" y1="612.97" x2="410.2" y2="612.97" stroke="#231f20" stroke-width="1.0"/>
<line x1="419.23" y1="595.34" x2="419.23" y2="606.34" stroke="#231f20" stroke-width="1.0"/>
<line x1="416.63" y1="595.34" x2="421.83" y2="595.34" stroke="#231f20" stroke-width="1.0"/>
<line x1="416.63" y1="606.34" x2="421.83" y2="606.34" stroke="#231f20" stroke-width="1.0"/>
<polygon points="56.8,748.26 59.8,753.66 53.8,753.66" fill="#fff" stroke="#231f20" stroke-width="1.1" stroke-linejoin="miter"/>
<polygon points="68.43,749.05 71.43,754.45 65.43,754.45" fill="#fff" stroke="#231f20" stroke-width="1.1" stroke-linejoin="miter"/>
<polygon points="80.06,749.06 83.06,754.46 77.06,754.46" fill="#fff" stroke="#231f20" stroke-width="1.1" stroke-linejoin="miter"/>
<polygon points="93.55,749.06 96.55,754.46 90.55,754.46" fill="#fff" stroke="#231f20" stroke-width="1.1" stroke-linejoin="miter"/>
<polygon points="105.19,746.41 108.19,751.81 102.19,751.81" fill="#fff" stroke="#231f20" stroke-width="1.1" stroke-linejoin="miter"/>
<polygon points="116.82,744.98 119.82,750.38 113.82,750.38" fill="#fff" stroke="#231f20" stroke-width="1.1" stroke-linejoin="miter"/>
<polygon points="128.45,743.18 131.45,748.58 125.45,748.58" fill="#fff" stroke="#231f20" stroke-width="1.1" stroke-linejoin="miter"/>
<polygon points="140.08,741.58 143.08,746.98 137.08,746.98" fill="#fff" stroke="#231f20" stroke-width="1.1" stroke-linejoin="miter"/>
<polygon points="151.71,740.08 154.71,745.48 148.71,745.48" fill="#fff" stroke="#231f20" stroke-width="1.1" stroke-linejoin="miter"/>
<polygon points="163.34,738.78 166.34,744.18 160.34,744.18" fill="#fff" stroke="#231f20" stroke-width="1.1" stroke-linejoin="miter"/>
<polygon points="174.97,736.76 177.97,742.16 171.97,742.16" fill="#fff" stroke="#231f20" stroke-width="1.1" stroke-linejoin="miter"/>
<polygon points="186.6,734.08 189.6,739.48 183.6,739.48" fill="#fff" stroke="#231f20" stroke-width="1.1" stroke-linejoin="miter"/>
<polygon points="198.24,731.1 201.24,736.5 195.24,736.5" fill="#fff" stroke="#231f20" stroke-width="1.1" stroke-linejoin="miter"/>
<polygon points="209.87,727.8 212.87,733.2 206.87,733.2" fill="#fff" stroke="#231f20" stroke-width="1.1" stroke-linejoin="miter"/>
<polygon points="221.5,724.29 224.5,729.69 218.5,729.69" fill="#fff" stroke="#231f20" stroke-width="1.1" stroke-linejoin="miter"/>
<polygon points="233.13,720.32 236.13,725.72 230.13,725.72" fill="#fff" stroke="#231f20" stroke-width="1.1" stroke-linejoin="miter"/>
<polygon points="244.76,715.81 247.76,721.21 241.76,721.21" fill="#fff" stroke="#231f20" stroke-width="1.1" stroke-linejoin="miter"/>
<polygon points="256.39,710.11 259.39,715.51 253.39,715.51" fill="#fff" stroke="#231f20" stroke-width="1.1" stroke-linejoin="miter"/>
<polygon points="268.02,702.41 271.02,707.81 265.02,707.81" fill="#fff" stroke="#231f20" stroke-width="1.1" stroke-linejoin="miter"/>
<polygon points="279.65,695.64 282.65,701.04 276.65,701.04" fill="#fff" stroke="#231f20" stroke-width="1.1" stroke-linejoin="miter"/>
<polygon points="291.29,689.12 294.29,694.52 288.29,694.52" fill="#fff" stroke="#231f20" stroke-width="1.1" stroke-linejoin="miter"/>
<polygon points="302.92,680.22 305.92,685.62 299.92,685.62" fill="#fff" stroke="#231f20" stroke-width="1.1" stroke-linejoin="miter"/>
<polygon points="314.55,670.3 317.55,675.7 311.55,675.7" fill="#fff" stroke="#231f20" stroke-width="1.1" stroke-linejoin="miter"/>
<polygon points="326.18,662.24 329.18,667.64 323.18,667.64" fill="#fff" stroke="#231f20" stroke-width="1.1" stroke-linejoin="miter"/>
<polygon points="337.81,653.03 340.81,658.43 334.81,658.43" fill="#fff" stroke="#231f20" stroke-width="1.1" stroke-linejoin="miter"/>
<polygon points="349.44,643.81 352.44,649.21 346.44,649.21" fill="#fff" stroke="#231f20" stroke-width="1.1" stroke-linejoin="miter"/>
<polygon points="361.07,636.54 364.07,641.94 358.07,641.94" fill="#fff" stroke="#231f20" stroke-width="1.1" stroke-linejoin="miter"/>
<polygon points="372.7,629.12 375.7,634.52 369.7,634.52" fill="#fff" stroke="#231f20" stroke-width="1.1" stroke-linejoin="miter"/>
<polygon points="384.34,618.62 387.34,624.02 381.34,624.02" fill="#fff" stroke="#231f20" stroke-width="1.1" stroke-linejoin="miter"/>
<polygon points="395.97,611.88 398.97,617.28 392.97,617.28" fill="#fff" stroke="#231f20" stroke-width="1.1" stroke-linejoin="miter"/>
<polygon points="407.6,604.23 410.6,609.63 404.6,609.63" fill="#fff" stroke="#231f20" stroke-width="1.1" stroke-linejoin="miter"/>
<polygon points="419.23,597.6 422.23,603 416.23,603" fill="#fff" stroke="#231f20" stroke-width="1.1" stroke-linejoin="miter"/>
<polyline points="56.8,751.5 68.43,752.29 80.06,752.3 93.55,752.3 105.19,749.65 116.82,748.22 128.45,746.42 140.08,744.82 151.71,743.32 163.34,742.02 174.97,740.6 186.6,738.32 198.24,735.64 209.87,732.73 221.5,730.02 233.13,726.65 244.76,723.24 256.39,719.73 268.02,716.62 279.65,713.54 291.29,710.53 302.92,708.22 314.55,706.01 326.18,702.54 337.81,698.33 349.44,693.82 361.07,689.05 372.7,683.05 384.34,676.34 395.97,672.31 407.6,664.67 419.23,658.54" fill="none" stroke="#231f20" stroke-width="1.1"/>
<line x1="279.65" y1="710.23" x2="279.65" y2="716.85" stroke="#231f20" stroke-width="1.0"/>
<line x1="277.05" y1="710.23" x2="282.25" y2="710.23" stroke="#231f20" stroke-width="1.0"/>
<line x1="277.05" y1="716.85" x2="282.25" y2="716.85" stroke="#231f20" stroke-width="1.0"/>
<line x1="291.29" y1="706.44" x2="291.29" y2="714.62" stroke="#231f20" stroke-width="1.0"/>
<line x1="288.69" y1="706.44" x2="293.89" y2="706.44" stroke="#231f20" stroke-width="1.0"/>
<line x1="288.69" y1="714.62" x2="293.89" y2="714.62" stroke="#231f20" stroke-width="1.0"/>
<line x1="302.92" y1="703.36" x2="302.92" y2="713.08" stroke="#231f20" stroke-width="1.0"/>
<line x1="300.32" y1="703.36" x2="305.52" y2="703.36" stroke="#231f20" stroke-width="1.0"/>
<line x1="300.32" y1="713.08" x2="305.52" y2="713.08" stroke="#231f20" stroke-width="1.0"/>
<line x1="314.55" y1="700.37" x2="314.55" y2="711.65" stroke="#231f20" stroke-width="1.0"/>
<line x1="311.95" y1="700.37" x2="317.15" y2="700.37" stroke="#231f20" stroke-width="1.0"/>
<line x1="311.95" y1="711.65" x2="317.15" y2="711.65" stroke="#231f20" stroke-width="1.0"/>
<line x1="326.18" y1="696.12" x2="326.18" y2="708.95" stroke="#231f20" stroke-width="1.0"/>
<line x1="323.58" y1="696.12" x2="328.78" y2="696.12" stroke="#231f20" stroke-width="1.0"/>
<line x1="323.58" y1="708.95" x2="328.78" y2="708.95" stroke="#231f20" stroke-width="1.0"/>
<line x1="337.81" y1="691.14" x2="337.81" y2="705.52" stroke="#231f20" stroke-width="1.0"/>
<line x1="335.21" y1="691.14" x2="340.41" y2="691.14" stroke="#231f20" stroke-width="1.0"/>
<line x1="335.21" y1="705.52" x2="340.41" y2="705.52" stroke="#231f20" stroke-width="1.0"/>
<line x1="349.44" y1="685.86" x2="349.44" y2="701.79" stroke="#231f20" stroke-width="1.0"/>
<line x1="346.84" y1="685.86" x2="352.04" y2="685.86" stroke="#231f20" stroke-width="1.0"/>
<line x1="346.84" y1="701.79" x2="352.04" y2="701.79" stroke="#231f20" stroke-width="1.0"/>
<line x1="361.07" y1="680.34" x2="361.07" y2="697.76" stroke="#231f20" stroke-width="1.0"/>
<line x1="358.47" y1="680.34" x2="363.67" y2="680.34" stroke="#231f20" stroke-width="1.0"/>
<line x1="358.47" y1="697.76" x2="363.67" y2="697.76" stroke="#231f20" stroke-width="1.0"/>
<line x1="372.7" y1="673.59" x2="372.7" y2="692.51" stroke="#231f20" stroke-width="1.0"/>
<line x1="370.1" y1="673.59" x2="375.3" y2="673.59" stroke="#231f20" stroke-width="1.0"/>
<line x1="370.1" y1="692.51" x2="375.3" y2="692.51" stroke="#231f20" stroke-width="1.0"/>
<line x1="384.34" y1="666.13" x2="384.34" y2="686.54" stroke="#231f20" stroke-width="1.0"/>
<line x1="381.74" y1="666.13" x2="386.94" y2="666.13" stroke="#231f20" stroke-width="1.0"/>
<line x1="381.74" y1="686.54" x2="386.94" y2="686.54" stroke="#231f20" stroke-width="1.0"/>
<line x1="395.97" y1="661.36" x2="395.97" y2="683.27" stroke="#231f20" stroke-width="1.0"/>
<line x1="393.37" y1="661.36" x2="398.57" y2="661.36" stroke="#231f20" stroke-width="1.0"/>
<line x1="393.37" y1="683.27" x2="398.57" y2="683.27" stroke="#231f20" stroke-width="1.0"/>
<line x1="407.6" y1="652.96" x2="407.6" y2="676.37" stroke="#231f20" stroke-width="1.0"/>
<line x1="405" y1="652.96" x2="410.2" y2="652.96" stroke="#231f20" stroke-width="1.0"/>
<line x1="405" y1="676.37" x2="410.2" y2="676.37" stroke="#231f20" stroke-width="1.0"/>
<line x1="419.23" y1="646.09" x2="419.23" y2="670.99" stroke="#231f20" stroke-width="1.0"/>
<line x1="416.63" y1="646.09" x2="421.83" y2="646.09" stroke="#231f20" stroke-width="1.0"/>
<line x1="416.63" y1="670.99" x2="421.83" y2="670.99" stroke="#231f20" stroke-width="1.0"/>
<rect x="53.8" y="748.5" width="6.0" height="6.0" fill="#fff" stroke="#231f20" stroke-width="1.15"/>
<rect x="65.43" y="749.29" width="6.0" height="6.0" fill="#fff" stroke="#231f20" stroke-width="1.15"/>
<rect x="77.06" y="749.3" width="6.0" height="6.0" fill="#fff" stroke="#231f20" stroke-width="1.15"/>
<rect x="90.55" y="749.3" width="6.0" height="6.0" fill="#fff" stroke="#231f20" stroke-width="1.15"/>
<rect x="102.19" y="746.65" width="6.0" height="6.0" fill="#fff" stroke="#231f20" stroke-width="1.15"/>
<rect x="113.82" y="745.22" width="6.0" height="6.0" fill="#fff" stroke="#231f20" stroke-width="1.15"/>
<rect x="125.45" y="743.42" width="6.0" height="6.0" fill="#fff" stroke="#231f20" stroke-width="1.15"/>
<rect x="137.08" y="741.82" width="6.0" height="6.0" fill="#fff" stroke="#231f20" stroke-width="1.15"/>
<rect x="148.71" y="740.32" width="6.0" height="6.0" fill="#fff" stroke="#231f20" stroke-width="1.15"/>
<rect x="160.34" y="739.02" width="6.0" height="6.0" fill="#fff" stroke="#231f20" stroke-width="1.15"/>
<rect x="171.97" y="737.6" width="6.0" height="6.0" fill="#fff" stroke="#231f20" stroke-width="1.15"/>
<rect x="183.6" y="735.32" width="6.0" height="6.0" fill="#fff" stroke="#231f20" stroke-width="1.15"/>
<rect x="195.24" y="732.64" width="6.0" height="6.0" fill="#fff" stroke="#231f20" stroke-width="1.15"/>
<rect x="206.87" y="729.73" width="6.0" height="6.0" fill="#fff" stroke="#231f20" stroke-width="1.15"/>
<rect x="218.5" y="727.02" width="6.0" height="6.0" fill="#fff" stroke="#231f20" stroke-width="1.15"/>
<rect x="230.13" y="723.65" width="6.0" height="6.0" fill="#fff" stroke="#231f20" stroke-width="1.15"/>
<rect x="241.76" y="720.24" width="6.0" height="6.0" fill="#fff" stroke="#231f20" stroke-width="1.15"/>
<rect x="253.39" y="716.73" width="6.0" height="6.0" fill="#fff" stroke="#231f20" stroke-width="1.15"/>
<rect x="265.02" y="713.62" width="6.0" height="6.0" fill="#fff" stroke="#231f20" stroke-width="1.15"/>
<rect x="276.65" y="710.54" width="6.0" height="6.0" fill="#fff" stroke="#231f20" stroke-width="1.15"/>
<rect x="288.29" y="707.53" width="6.0" height="6.0" fill="#fff" stroke="#231f20" stroke-width="1.15"/>
<rect x="299.92" y="705.22" width="6.0" height="6.0" fill="#fff" stroke="#231f20" stroke-width="1.15"/>
<rect x="311.55" y="703.01" width="6.0" height="6.0" fill="#fff" stroke="#231f20" stroke-width="1.15"/>
<rect x="323.18" y="699.54" width="6.0" height="6.0" fill="#fff" stroke="#231f20" stroke-width="1.15"/>
<rect x="334.81" y="695.33" width="6.0" height="6.0" fill="#fff" stroke="#231f20" stroke-width="1.15"/>
<rect x="346.44" y="690.82" width="6.0" height="6.0" fill="#fff" stroke="#231f20" stroke-width="1.15"/>
<rect x="358.07" y="686.05" width="6.0" height="6.0" fill="#fff" stroke="#231f20" stroke-width="1.15"/>
<rect x="369.7" y="680.05" width="6.0" height="6.0" fill="#fff" stroke="#231f20" stroke-width="1.15"/>
<rect x="381.34" y="673.34" width="6.0" height="6.0" fill="#fff" stroke="#231f20" stroke-width="1.15"/>
<rect x="392.97" y="669.31" width="6.0" height="6.0" fill="#fff" stroke="#231f20" stroke-width="1.15"/>
<rect x="404.6" y="661.67" width="6.0" height="6.0" fill="#fff" stroke="#231f20" stroke-width="1.15"/>
<rect x="416.23" y="655.54" width="6.0" height="6.0" fill="#fff" stroke="#231f20" stroke-width="1.15"/>
<polyline points="56.8,751.5 68.43,752.29 80.06,752.3 93.55,752.3 105.19,749.65 116.82,748.22 128.45,746.42 140.08,744.82 151.71,743.32 163.34,742.02 174.97,740.2 186.6,737.82 198.24,735.04 209.87,732.03 221.5,729.22 233.13,725.85 244.76,722.34 256.39,718.73 268.02,715.62 279.65,712.44 291.29,709.23 302.92,706.22 314.55,703.11 326.18,699.24 337.81,694.64 349.44,690.02 361.07,685.25 372.7,678.26 384.34,670.84 395.97,665.81 407.6,659.36 419.23,653.83" fill="none" stroke="#231f20" stroke-width="1.1"/>
<line x1="279.65" y1="709.13" x2="279.65" y2="715.75" stroke="#231f20" stroke-width="1.0"/>
<line x1="277.05" y1="709.13" x2="282.25" y2="709.13" stroke="#231f20" stroke-width="1.0"/>
<line x1="277.05" y1="715.75" x2="282.25" y2="715.75" stroke="#231f20" stroke-width="1.0"/>
<line x1="291.29" y1="705.15" x2="291.29" y2="713.32" stroke="#231f20" stroke-width="1.0"/>
<line x1="288.69" y1="705.15" x2="293.89" y2="705.15" stroke="#231f20" stroke-width="1.0"/>
<line x1="288.69" y1="713.32" x2="293.89" y2="713.32" stroke="#231f20" stroke-width="1.0"/>
<line x1="302.92" y1="701.36" x2="302.92" y2="711.08" stroke="#231f20" stroke-width="1.0"/>
<line x1="300.32" y1="701.36" x2="305.52" y2="701.36" stroke="#231f20" stroke-width="1.0"/>
<line x1="300.32" y1="711.08" x2="305.52" y2="711.08" stroke="#231f20" stroke-width="1.0"/>
<line x1="314.55" y1="697.48" x2="314.55" y2="708.75" stroke="#231f20" stroke-width="1.0"/>
<line x1="311.95" y1="697.48" x2="317.15" y2="697.48" stroke="#231f20" stroke-width="1.0"/>
<line x1="311.95" y1="708.75" x2="317.15" y2="708.75" stroke="#231f20" stroke-width="1.0"/>
<line x1="326.18" y1="692.83" x2="326.18" y2="705.65" stroke="#231f20" stroke-width="1.0"/>
<line x1="323.58" y1="692.83" x2="328.78" y2="692.83" stroke="#231f20" stroke-width="1.0"/>
<line x1="323.58" y1="705.65" x2="328.78" y2="705.65" stroke="#231f20" stroke-width="1.0"/>
<line x1="337.81" y1="687.45" x2="337.81" y2="701.82" stroke="#231f20" stroke-width="1.0"/>
<line x1="335.21" y1="687.45" x2="340.41" y2="687.45" stroke="#231f20" stroke-width="1.0"/>
<line x1="335.21" y1="701.82" x2="340.41" y2="701.82" stroke="#231f20" stroke-width="1.0"/>
<line x1="349.44" y1="682.06" x2="349.44" y2="697.99" stroke="#231f20" stroke-width="1.0"/>
<line x1="346.84" y1="682.06" x2="352.04" y2="682.06" stroke="#231f20" stroke-width="1.0"/>
<line x1="346.84" y1="697.99" x2="352.04" y2="697.99" stroke="#231f20" stroke-width="1.0"/>
<line x1="361.07" y1="676.54" x2="361.07" y2="693.96" stroke="#231f20" stroke-width="1.0"/>
<line x1="358.47" y1="676.54" x2="363.67" y2="676.54" stroke="#231f20" stroke-width="1.0"/>
<line x1="358.47" y1="693.96" x2="363.67" y2="693.96" stroke="#231f20" stroke-width="1.0"/>
<line x1="372.7" y1="668.8" x2="372.7" y2="687.72" stroke="#231f20" stroke-width="1.0"/>
<line x1="370.1" y1="668.8" x2="375.3" y2="668.8" stroke="#231f20" stroke-width="1.0"/>
<line x1="370.1" y1="687.72" x2="375.3" y2="687.72" stroke="#231f20" stroke-width="1.0"/>
<line x1="384.34" y1="660.63" x2="384.34" y2="681.05" stroke="#231f20" stroke-width="1.0"/>
<line x1="381.74" y1="660.63" x2="386.94" y2="660.63" stroke="#231f20" stroke-width="1.0"/>
<line x1="381.74" y1="681.05" x2="386.94" y2="681.05" stroke="#231f20" stroke-width="1.0"/>
<line x1="395.97" y1="654.86" x2="395.97" y2="676.77" stroke="#231f20" stroke-width="1.0"/>
<line x1="393.37" y1="654.86" x2="398.57" y2="654.86" stroke="#231f20" stroke-width="1.0"/>
<line x1="393.37" y1="676.77" x2="398.57" y2="676.77" stroke="#231f20" stroke-width="1.0"/>
<line x1="407.6" y1="647.65" x2="407.6" y2="671.06" stroke="#231f20" stroke-width="1.0"/>
<line x1="405" y1="647.65" x2="410.2" y2="647.65" stroke="#231f20" stroke-width="1.0"/>
<line x1="405" y1="671.06" x2="410.2" y2="671.06" stroke="#231f20" stroke-width="1.0"/>
<line x1="419.23" y1="641.38" x2="419.23" y2="666.28" stroke="#231f20" stroke-width="1.0"/>
<line x1="416.63" y1="641.38" x2="421.83" y2="641.38" stroke="#231f20" stroke-width="1.0"/>
<line x1="416.63" y1="666.28" x2="421.83" y2="666.28" stroke="#231f20" stroke-width="1.0"/>
<circle cx="56.8" cy="751.5" r="3.0" fill="#fff" stroke="#231f20" stroke-width="1.15"/>
<circle cx="68.43" cy="752.29" r="3.0" fill="#fff" stroke="#231f20" stroke-width="1.15"/>
<circle cx="80.06" cy="752.3" r="3.0" fill="#fff" stroke="#231f20" stroke-width="1.15"/>
<circle cx="93.55" cy="752.3" r="3.0" fill="#fff" stroke="#231f20" stroke-width="1.15"/>
<circle cx="105.19" cy="749.65" r="3.0" fill="#fff" stroke="#231f20" stroke-width="1.15"/>
<circle cx="116.82" cy="748.22" r="3.0" fill="#fff" stroke="#231f20" stroke-width="1.15"/>
<circle cx="128.45" cy="746.42" r="3.0" fill="#fff" stroke="#231f20" stroke-width="1.15"/>
<circle cx="140.08" cy="744.82" r="3.0" fill="#fff" stroke="#231f20" stroke-width="1.15"/>
<circle cx="151.71" cy="743.32" r="3.0" fill="#fff" stroke="#231f20" stroke-width="1.15"/>
<circle cx="163.34" cy="742.02" r="3.0" fill="#fff" stroke="#231f20" stroke-width="1.15"/>
<circle cx="174.97" cy="740.2" r="3.0" fill="#fff" stroke="#231f20" stroke-width="1.15"/>
<circle cx="186.6" cy="737.82" r="3.0" fill="#fff" stroke="#231f20" stroke-width="1.15"/>
<circle cx="198.24" cy="735.04" r="3.0" fill="#fff" stroke="#231f20" stroke-width="1.15"/>
<circle cx="209.87" cy="732.03" r="3.0" fill="#fff" stroke="#231f20" stroke-width="1.15"/>
<circle cx="221.5" cy="729.22" r="3.0" fill="#fff" stroke="#231f20" stroke-width="1.15"/>
<circle cx="233.13" cy="725.85" r="3.0" fill="#fff" stroke="#231f20" stroke-width="1.15"/>
<circle cx="244.76" cy="722.34" r="3.0" fill="#fff" stroke="#231f20" stroke-width="1.15"/>
<circle cx="256.39" cy="718.73" r="3.0" fill="#fff" stroke="#231f20" stroke-width="1.15"/>
<circle cx="268.02" cy="715.62" r="3.0" fill="#fff" stroke="#231f20" stroke-width="1.15"/>
<circle cx="279.65" cy="712.44" r="3.0" fill="#fff" stroke="#231f20" stroke-width="1.15"/>
<circle cx="291.29" cy="709.23" r="3.0" fill="#fff" stroke="#231f20" stroke-width="1.15"/>
<circle cx="302.92" cy="706.22" r="3.0" fill="#fff" stroke="#231f20" stroke-width="1.15"/>
<circle cx="314.55" cy="703.11" r="3.0" fill="#fff" stroke="#231f20" stroke-width="1.15"/>
<circle cx="326.18" cy="699.24" r="3.0" fill="#fff" stroke="#231f20" stroke-width="1.15"/>
<circle cx="337.81" cy="694.64" r="3.0" fill="#fff" stroke="#231f20" stroke-width="1.15"/>
<circle cx="349.44" cy="690.02" r="3.0" fill="#fff" stroke="#231f20" stroke-width="1.15"/>
<circle cx="361.07" cy="685.25" r="3.0" fill="#fff" stroke="#231f20" stroke-width="1.15"/>
<circle cx="372.7" cy="678.26" r="3.0" fill="#fff" stroke="#231f20" stroke-width="1.15"/>
<circle cx="384.34" cy="670.84" r="3.0" fill="#fff" stroke="#231f20" stroke-width="1.15"/>
<circle cx="395.97" cy="665.81" r="3.0" fill="#fff" stroke="#231f20" stroke-width="1.15"/>
<circle cx="407.6" cy="659.36" r="3.0" fill="#fff" stroke="#231f20" stroke-width="1.15"/>
<circle cx="419.23" cy="653.83" r="3.0" fill="#fff" stroke="#231f20" stroke-width="1.15"/>
</svg>
</body></html>
